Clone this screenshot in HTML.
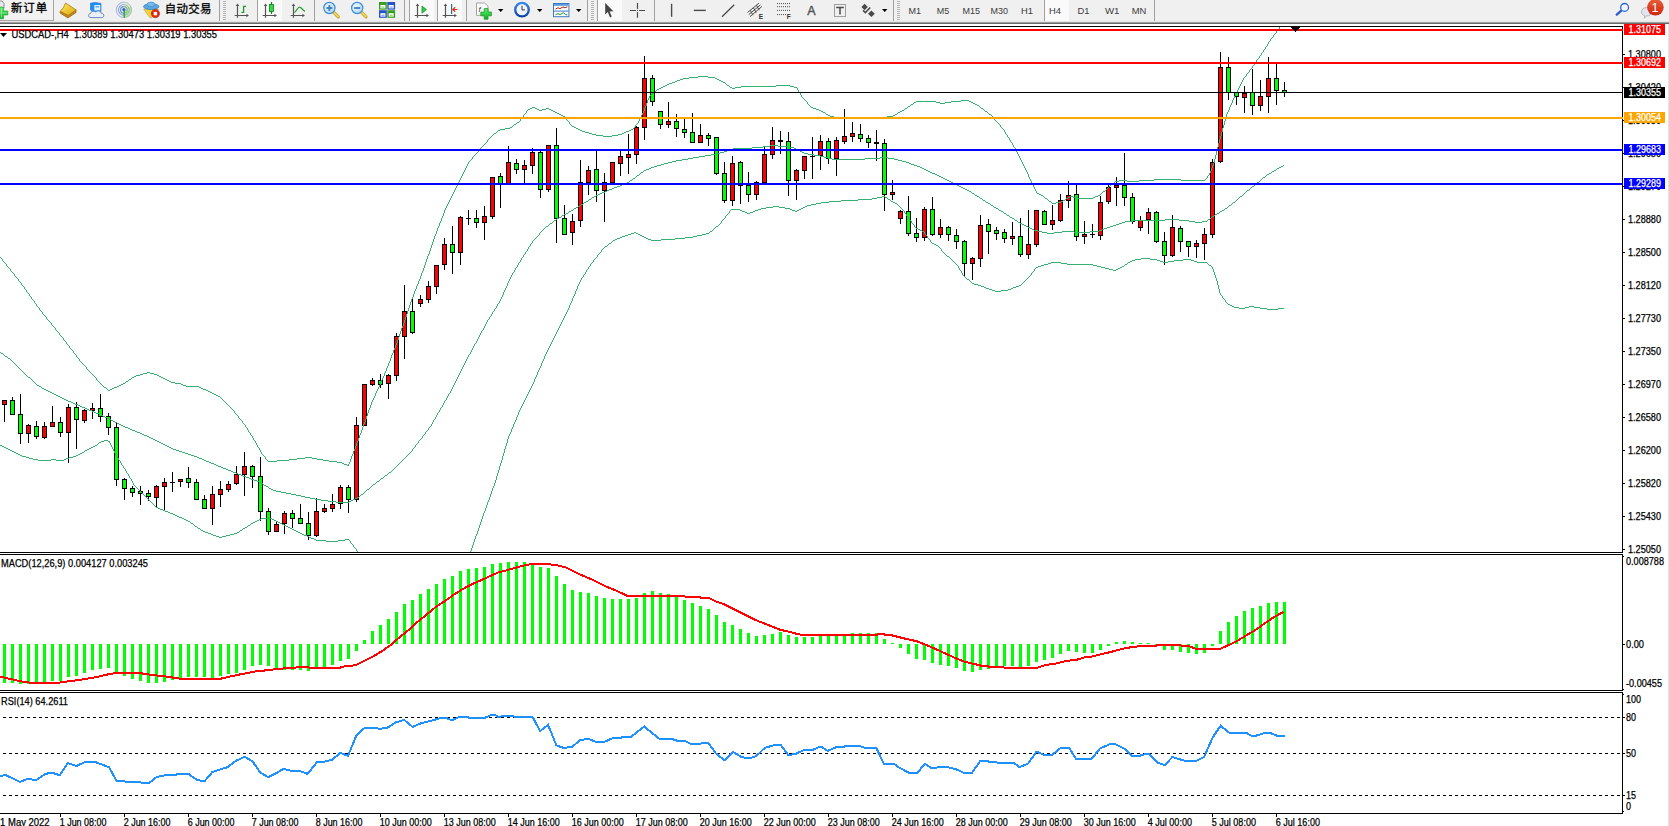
<!DOCTYPE html>
<html><head><meta charset="utf-8"><title>USDCAD-,H4</title>
<style>html,body{margin:0;padding:0;background:#fff;overflow:hidden}body{width:1669px;height:826px}svg{display:block}</style>
</head><body>
<svg width="1669" height="826" viewBox="0 0 1669 826" font-family='"Liberation Sans","Noto Sans CJK SC",sans-serif'>
<rect x="0" y="0" width="1669" height="826" fill="#fff"/>
<g>
<defs><linearGradient id="gGold" x1="0" y1="0" x2="0" y2="1"><stop offset="0" stop-color="#f7dc4a"/><stop offset="1" stop-color="#c8901a"/></linearGradient><linearGradient id="gBadge" x1="0" y1="0" x2="0" y2="1"><stop offset="0" stop-color="#e8603a"/><stop offset="1" stop-color="#d02410"/></linearGradient><linearGradient id="gGreen" x1="0" y1="0" x2="0" y2="1"><stop offset="0" stop-color="#5cf06a"/><stop offset="1" stop-color="#10b020"/></linearGradient><linearGradient id="gClock" x1="0" y1="0" x2="0" y2="1"><stop offset="0" stop-color="#3a8cf0"/><stop offset="1" stop-color="#0a3c9c"/></linearGradient><radialGradient id="gLens" cx="0.4" cy="0.35" r="0.7"><stop offset="0" stop-color="#f4fbff"/><stop offset="1" stop-color="#a8d4f4"/></radialGradient><linearGradient id="gGold2" x1="0" y1="0" x2="1" y2="1"><stop offset="0" stop-color="#fbe870"/><stop offset="0.5" stop-color="#efc830"/><stop offset="1" stop-color="#d8a018"/></linearGradient></defs>
<rect x="0" y="0" width="1669" height="22" fill="#f0f0f0"/>
<rect x="0" y="21" width="1669" height="1" fill="#e4e4e4"/>
<rect x="0" y="22" width="1669" height="1" fill="#a0a0a0"/>
<rect x="0" y="23" width="1669" height="1" fill="#696969"/>
<rect x="-1" y="-1" width="54.5" height="21.5" fill="#f2f2f2" stroke="#a6a6a6" stroke-width="1"/>
<path d="M-2,1 L2,1 L4,3.5 L4,8 L-2,8 Z" fill="#e8e8e8" stroke="#909090" stroke-width="1"/>
<path d="M-1,7.2 H3.6 V11 H7.8 V15 H3.6 V18.8 H-1 Z" fill="url(#gGreen)" stroke="#18a028" stroke-width="0.6"/>
<path d="M1.4,8.6 V17.6 M-1,13 H6.6" stroke="#fff" stroke-opacity="0.4" stroke-width="1.2" fill="none"/>
<text x="10.9" y="12" font-size="11.4" fill="#000" stroke="#000" stroke-width="0.3" textLength="36.2" lengthAdjust="spacing">新订单</text>
<path d="M60.3,11.2 L60,12.9 L67.9,17.9 L76,12.6 L76.1,9.9 L68.2,15.5 Z" fill="#c08a1a" stroke="#9a6a14" stroke-width="0.8" stroke-linejoin="round"/>
<path d="M65.5,3 L76.1,9.9 L68.2,15.5 L60.3,11.2 C62.5,9.6 64.2,6.4 65.5,3 Z" fill="url(#gGold2)" stroke="#a87818" stroke-width="0.8" stroke-linejoin="round"/>
<path d="M90.5,3.2 L95,2.4 L101,3.4 L101,11.5 L93,12 L90.5,10 Z" fill="#1e8ef6" stroke="#1670d0" stroke-width="0.6"/>
<rect x="94.3" y="5" width="6" height="5.5" fill="#dff0ff"/>
<rect x="95.5" y="6.3" width="3.6" height="1" fill="#1e8ef6"/>
<path d="M91,17.6 C88,17.6 87.6,13.8 90.6,13.4 C90.8,11 94.4,10.4 95.6,12.2 C97,10 101,10.8 101,13.2 C104.6,13 104.8,17.6 101.6,17.6 Z" fill="#eaf0fa" stroke="#5c7cbc" stroke-width="0.9"/>
<path d="M123.9,2.3000000000000007 A7.6,7.6 0 0 0 123.9,17.5" fill="none" stroke="#4a78d8" stroke-width="1.1" opacity="0.45"/>
<path d="M123.9,2.3000000000000007 A7.6,7.6 0 0 1 123.9,17.5" fill="none" stroke="#5aa860" stroke-width="1.1" opacity="0.45"/>
<path d="M123.9,4.5 A5.4,5.4 0 0 0 123.9,15.3" fill="none" stroke="#4a78d8" stroke-width="1.1" opacity="0.65"/>
<path d="M123.9,4.5 A5.4,5.4 0 0 1 123.9,15.3" fill="none" stroke="#5aa860" stroke-width="1.1" opacity="0.65"/>
<path d="M123.9,6.6000000000000005 A3.3,3.3 0 0 0 123.9,13.2" fill="none" stroke="#4a78d8" stroke-width="1.1" opacity="0.85"/>
<path d="M123.9,6.6000000000000005 A3.3,3.3 0 0 1 123.9,13.2" fill="none" stroke="#5aa860" stroke-width="1.1" opacity="0.85"/>
<path d="M123.9,9.9 L131,6.5 A7.8,7.8 0 0 1 124.2,17.7 Z" fill="#8cc890" opacity="0.45"/>
<circle cx="123.9" cy="9.7" r="1.6" fill="#2a5cd0"/>
<rect x="123.5" y="10.5" width="1.3" height="7.3" fill="#20a030"/>
<path d="M143.8,9.2 L158.6,9.2 L151.4,17.8 L150,17.8 Z" fill="#f4d23c" stroke="#c89a18" stroke-width="0.6"/>
<ellipse cx="151.2" cy="6.6" rx="7.8" ry="2.9" fill="#5aa8e0" stroke="#2a80c0" stroke-width="0.7"/>
<ellipse cx="151" cy="4.4" rx="3.8" ry="2.3" fill="#78bcec" stroke="#2a80c0" stroke-width="0.6"/>
<circle cx="155.4" cy="13.6" r="4.2" fill="#e02810" stroke="#b01808" stroke-width="0.5"/>
<rect x="153.7" y="11.9" width="3.4" height="3.4" fill="#fff"/>
<text x="164.8" y="12.8" font-size="11.4" fill="#000" stroke="#000" stroke-width="0.3" textLength="46.6" lengthAdjust="spacing">自动交易</text>
<rect x="219" y="0" width="1" height="21" fill="#a0a0a0"/>
<rect x="223" y="1" width="3" height="1" fill="#b4b4b4"/>
<rect x="223" y="3" width="3" height="1" fill="#b4b4b4"/>
<rect x="223" y="5" width="3" height="1" fill="#b4b4b4"/>
<rect x="223" y="7" width="3" height="1" fill="#b4b4b4"/>
<rect x="223" y="9" width="3" height="1" fill="#b4b4b4"/>
<rect x="223" y="11" width="3" height="1" fill="#b4b4b4"/>
<rect x="223" y="13" width="3" height="1" fill="#b4b4b4"/>
<rect x="223" y="15" width="3" height="1" fill="#b4b4b4"/>
<rect x="223" y="17" width="3" height="1" fill="#b4b4b4"/>
<rect x="223" y="19" width="3" height="1" fill="#b4b4b4"/>
<rect x="257" y="0" width="25" height="21" fill="#fafafa"/>
<rect x="257" y="0" width="1" height="21" fill="#a0a0a0"/>
<path d="M237.5,5 V17.8 M234.7,15.5 H247.6" stroke="#555" stroke-width="1.2" fill="none"/>
<path d="M237.5,3.4 L239.3,6 L235.7,6 Z M248.9,15.5 L246.4,13.7 L246.4,17.3 Z" fill="#555"/>
<path d="M243.6,5.8 V13 M243.6,6.4 H246 M241.4,12.4 H243.6" stroke="#18a028" stroke-width="1.3" fill="none"/>
<path d="M265.5,5 V17.8 M262.7,15.5 H275.6" stroke="#555" stroke-width="1.2" fill="none"/>
<path d="M265.5,3.4 L267.3,6 L263.7,6 Z M276.9,15.5 L274.4,13.7 L274.4,17.3 Z" fill="#555"/>
<path d="M271.5,2 V14" stroke="#108018" stroke-width="1.2"/>
<rect x="269.5" y="4.5" width="4" height="7" fill="#30e040" stroke="#108018" stroke-width="0.8"/>
<path d="M293.5,5 V17.8 M290.7,15.5 H303.6" stroke="#555" stroke-width="1.2" fill="none"/>
<path d="M293.5,3.4 L295.3,6 L291.7,6 Z M304.9,15.5 L302.4,13.7 L302.4,17.3 Z" fill="#555"/>
<path d="M294.5,12.6 C297,10 298,7.2 299.6,7.2 C301.4,7.2 302.4,10 305,11.4" stroke="#2aa030" stroke-width="1.2" fill="none"/>
<rect x="314" y="0" width="1" height="21" fill="#a0a0a0"/>
<path d="M333.59999999999997,12.2 L338.2,16.8" stroke="#c8a020" stroke-width="3.2" stroke-linecap="round"/>
<path d="M333.79999999999995,12.4 L338.0,16.6" stroke="#f0d860" stroke-width="1.6" stroke-linecap="round"/>
<circle cx="329.4" cy="8" r="5.6" fill="url(#gLens)" stroke="#3c8cd4" stroke-width="1.2"/>
<path d="M326.4,8 H332.4" stroke="#3a7cb8" stroke-width="1.8"/>
<path d="M329.4,5 V11" stroke="#3a7cb8" stroke-width="1.8"/>
<path d="M361.4,12.2 L366.0,16.8" stroke="#c8a020" stroke-width="3.2" stroke-linecap="round"/>
<path d="M361.59999999999997,12.4 L365.8,16.6" stroke="#f0d860" stroke-width="1.6" stroke-linecap="round"/>
<circle cx="357.2" cy="8" r="5.6" fill="url(#gLens)" stroke="#3c8cd4" stroke-width="1.2"/>
<path d="M354.2,8 H360.2" stroke="#3a7cb8" stroke-width="1.8"/>
<rect x="379" y="2" width="7.8" height="7.6" fill="#3c9c1c"/>
<rect x="380.4" y="5" width="5" height="3.4" fill="#fff"/>
<rect x="381.4" y="6.6" width="3" height="0.9" fill="#3c9c1c" opacity="0.7"/>
<rect x="387.3" y="2" width="7.8" height="7.6" fill="#2454c8"/>
<rect x="388.7" y="5" width="5" height="3.4" fill="#fff"/>
<rect x="389.7" y="6.6" width="3" height="0.9" fill="#2454c8" opacity="0.7"/>
<rect x="379" y="10.2" width="7.8" height="7.6" fill="#2454c8"/>
<rect x="380.4" y="13.2" width="5" height="3.4" fill="#fff"/>
<rect x="381.4" y="14.799999999999999" width="3" height="0.9" fill="#2454c8" opacity="0.7"/>
<rect x="387.3" y="10.2" width="7.8" height="7.6" fill="#3c9c1c"/>
<rect x="388.7" y="13.2" width="5" height="3.4" fill="#fff"/>
<rect x="389.7" y="14.799999999999999" width="3" height="0.9" fill="#3c9c1c" opacity="0.7"/>
<rect x="404" y="0" width="1" height="21" fill="#a0a0a0"/>
<rect x="409" y="0" width="25" height="21" fill="#fafafa"/>
<rect x="409" y="0" width="1" height="21" fill="#a0a0a0"/>
<path d="M417.5,5 V17.8 M414.7,15.5 H427.6" stroke="#555" stroke-width="1.2" fill="none"/>
<path d="M417.5,3.4 L419.3,6 L415.7,6 Z M428.9,15.5 L426.4,13.7 L426.4,17.3 Z" fill="#555"/>
<path d="M422,6 L426.4,9.6 L422,13.2 Z" fill="#30d040" stroke="#189028" stroke-width="0.8"/>
<rect x="437" y="0" width="25" height="21" fill="#fafafa"/>
<rect x="437" y="0" width="1" height="21" fill="#a0a0a0"/>
<path d="M445.5,5 V17.8 M442.7,15.5 H455.6" stroke="#555" stroke-width="1.2" fill="none"/>
<path d="M445.5,3.4 L447.3,6 L443.7,6 Z M456.9,15.5 L454.4,13.7 L454.4,17.3 Z" fill="#555"/>
<rect x="451" y="4" width="1.2" height="10" fill="#2070b0"/>
<path d="M452.6,9.5 H457.4 M455.2,7.2 L452.8,9.5 L455.2,11.8" stroke="#e03010" stroke-width="1.2" fill="none"/>
<rect x="466" y="0" width="1" height="21" fill="#a0a0a0"/>
<path d="M476.5,3 H484.5 L488,6.2 V15.3 H476.5 Z" fill="#fafafa" stroke="#9a9a9a" stroke-width="0.9"/>
<text x="478.6" y="11.5" font-size="8" font-style="italic" fill="#444">f</text>
<path d="M484.2,8.6 H488 V12 H491.4 V15.8 H488 V19.2 H484.2 V15.8 H480.8 V12 H484.2 Z" fill="url(#gGreen)" stroke="#12901e" stroke-width="0.7"/>
<polygon points="498,9 503.4,9 500.7,12" fill="#000"/>
<circle cx="522" cy="9.7" r="7.9" fill="url(#gClock)"/>
<circle cx="522" cy="9.7" r="5.6" fill="#eef4fc"/>
<path d="M522,5.8 V9.9 H525" stroke="#333" stroke-width="1" fill="none"/>
<polygon points="537,9 542.4,9 539.7,12" fill="#000"/>
<rect x="553.5" y="3.5" width="15.4" height="13.2" fill="#fff" stroke="#3c78c8" stroke-width="1"/>
<rect x="554" y="4" width="14.4" height="1.8" fill="#5a98e0"/>
<rect x="554" y="10.6" width="14.4" height="1" fill="#3c78c8"/>
<path d="M555.5,9 L558,7.8 L560,8.6 L563,7 L565,7.8 L567.4,6.8" stroke="#b02818" stroke-width="1" fill="none"/>
<path d="M555.5,14.8 L558,13.6 L560,14.6 L563.4,12.6 L565.4,14.4 L567.4,15" stroke="#189028" stroke-width="1" fill="none"/>
<polygon points="576,9 581.4,9 578.7,12" fill="#000"/>
<rect x="587" y="0" width="1" height="21" fill="#a0a0a0"/>
<rect x="591" y="1" width="3" height="1" fill="#b4b4b4"/>
<rect x="591" y="3" width="3" height="1" fill="#b4b4b4"/>
<rect x="591" y="5" width="3" height="1" fill="#b4b4b4"/>
<rect x="591" y="7" width="3" height="1" fill="#b4b4b4"/>
<rect x="591" y="9" width="3" height="1" fill="#b4b4b4"/>
<rect x="591" y="11" width="3" height="1" fill="#b4b4b4"/>
<rect x="591" y="13" width="3" height="1" fill="#b4b4b4"/>
<rect x="591" y="15" width="3" height="1" fill="#b4b4b4"/>
<rect x="591" y="17" width="3" height="1" fill="#b4b4b4"/>
<rect x="591" y="19" width="3" height="1" fill="#b4b4b4"/>
<rect x="597" y="0" width="25" height="21" fill="#fafafa"/>
<rect x="597" y="0" width="1" height="21" fill="#a0a0a0"/>
<path d="M605.2,2.9 L605.2,14.4 L607.8,12 L610,17.4 L611.8,16.6 L609.6,11.4 L613.4,11.2 Z" fill="#444"/>
<path d="M630,10.5 H636 M639,10.5 H645 M637.5,3 V9 M637.5,12 V17.8" stroke="#4a4a4a" stroke-width="1.2" fill="none"/>
<rect x="637" y="10" width="1" height="1" fill="#4a4a4a"/>
<rect x="654" y="0" width="1" height="21" fill="#a0a0a0"/>
<path d="M671.6,3.8 V16.8" stroke="#4a4a4a" stroke-width="1.4"/>
<path d="M693.8,10.4 H705.8" stroke="#4a4a4a" stroke-width="1.4"/>
<path d="M722,16.8 L734.2,4.8" stroke="#4a4a4a" stroke-width="1.3"/>
<path d="M747.5,12.5 L759,3.2 M748.8,14.6 L760.4,4.9 M750,16.6 L761.8,6.6 M750.2,10.2 L753,15.2 M753.4,7.8 L756.2,12.8 M756.4,5.2 L759.2,10.2" stroke="#4a4a4a" stroke-width="1" fill="none"/>
<text x="758.8" y="18.6" font-size="6.5" font-weight="bold" fill="#333">E</text>
<path d="M777,3.6 H790" stroke="#4a4a4a" stroke-width="1" stroke-dasharray="1,1"/>
<path d="M777,6.7 H790" stroke="#4a4a4a" stroke-width="1" stroke-dasharray="1,1"/>
<path d="M777,10.4 H790" stroke="#4a4a4a" stroke-width="1" stroke-dasharray="1,1"/>
<path d="M777,14.6 H786" stroke="#4a4a4a" stroke-width="1" stroke-dasharray="1,1"/>
<text x="786.8" y="18.6" font-size="6.5" font-weight="bold" fill="#333">F</text>
<text x="807.2" y="15" font-size="12.5" fill="#555" stroke="#555" stroke-width="0.4">A</text>
<rect x="834.5" y="4.5" width="11" height="12" fill="none" stroke="#4a4a4a" stroke-width="1" stroke-dasharray="1,1"/>
<path d="M836.2,7.4 H843.8 M840,7.4 V14.4" stroke="#4a4a4a" stroke-width="1.5" fill="none"/>
<path d="M864.6,3.8 L867.8,7 L864.6,10.2 L861.4,7 Z M871.4,10.6 L874.8,13.8 L871.4,17 L868,13.8 Z" fill="#4a4a4a"/>
<path d="M863,10.4 L865.4,12.6 L870.2,7.4" stroke="#4a4a4a" stroke-width="1.5" fill="none"/>
<polygon points="882,9 887.4,9 884.7,12" fill="#000"/>
<rect x="893" y="0" width="1" height="21" fill="#a0a0a0"/>
<rect x="897" y="1" width="3" height="1" fill="#b4b4b4"/>
<rect x="897" y="3" width="3" height="1" fill="#b4b4b4"/>
<rect x="897" y="5" width="3" height="1" fill="#b4b4b4"/>
<rect x="897" y="7" width="3" height="1" fill="#b4b4b4"/>
<rect x="897" y="9" width="3" height="1" fill="#b4b4b4"/>
<rect x="897" y="11" width="3" height="1" fill="#b4b4b4"/>
<rect x="897" y="13" width="3" height="1" fill="#b4b4b4"/>
<rect x="897" y="15" width="3" height="1" fill="#b4b4b4"/>
<rect x="897" y="17" width="3" height="1" fill="#b4b4b4"/>
<rect x="897" y="19" width="3" height="1" fill="#b4b4b4"/>
<rect x="1044" y="0" width="25" height="21" fill="#fafafa"/>
<rect x="1044" y="0" width="1" height="21" fill="#a0a0a0"/>
<text x="908.5" y="14" font-size="9.6" fill="#3c3c3c" textLength="12.5" lengthAdjust="spacingAndGlyphs">M1</text>
<text x="936.7" y="14" font-size="9.6" fill="#3c3c3c" textLength="12.5" lengthAdjust="spacingAndGlyphs">M5</text>
<text x="962.6" y="14" font-size="9.6" fill="#3c3c3c" textLength="17.5" lengthAdjust="spacingAndGlyphs">M15</text>
<text x="990.6" y="14" font-size="9.6" fill="#3c3c3c" textLength="17.5" lengthAdjust="spacingAndGlyphs">M30</text>
<text x="1021" y="14" font-size="9.6" fill="#3c3c3c" textLength="12" lengthAdjust="spacingAndGlyphs">H1</text>
<text x="1049" y="14" font-size="9.6" fill="#3c3c3c" textLength="12" lengthAdjust="spacingAndGlyphs">H4</text>
<text x="1077.5" y="14" font-size="9.6" fill="#3c3c3c" textLength="12" lengthAdjust="spacingAndGlyphs">D1</text>
<text x="1105" y="14" font-size="9.6" fill="#3c3c3c" textLength="14.5" lengthAdjust="spacingAndGlyphs">W1</text>
<text x="1131.7" y="14" font-size="9.6" fill="#3c3c3c" textLength="14.6" lengthAdjust="spacingAndGlyphs">MN</text>
<rect x="1154" y="0" width="1" height="21" fill="#a0a0a0"/>
<path d="M1621.6,10.4 L1616.8,14.6" stroke="#2c5cd0" stroke-width="2.4" stroke-linecap="round"/>
<circle cx="1624.6" cy="7.4" r="3.9" fill="#f4f6fc" stroke="#2c64d8" stroke-width="1.3"/>
<path d="M1641.6,12 C1641.6,9 1644,7.6 1646.4,7.6 C1650,7.6 1651.6,10 1651.6,12 C1651.6,14.6 1649,16 1646.6,16 L1644.4,18.2 L1644.8,15.8 C1642.6,15.2 1641.6,13.8 1641.6,12 Z" fill="#e2e4ee" stroke="#a8a8a8" stroke-width="0.8"/>
<circle cx="1655.4" cy="7.3" r="8.3" fill="url(#gBadge)"/>
<text x="1651.4" y="11.9" font-size="12.6" fill="#fff">1</text>
</g>
<g shape-rendering="crispEdges">
<rect x="0" y="26" width="1623" height="1" fill="#000"/>
<rect x="1622" y="26" width="1" height="527" fill="#000"/>
<rect x="0" y="552" width="1623" height="1" fill="#000"/>
<rect x="0" y="554" width="1623" height="1" fill="#000"/>
<rect x="1622" y="554" width="1" height="137" fill="#000"/>
<rect x="0" y="690" width="1623" height="1" fill="#000"/>
<rect x="0" y="692" width="1623" height="1" fill="#000"/>
<rect x="1622" y="692" width="1" height="122" fill="#000"/>
<rect x="0" y="813" width="1623" height="1" fill="#000"/>
<rect x="1668" y="24" width="1" height="802" fill="#e3e3e3"/>
</g>
<defs><clipPath id="mainclip"><rect x="0" y="27" width="1623" height="525"/></clipPath></defs>
<g clip-path="url(#mainclip)" shape-rendering="crispEdges">
<rect x="4" y="400" width="1" height="22" fill="#000"/>
<rect x="2" y="400" width="5" height="5" fill="#000"/>
<rect x="3" y="401" width="3" height="3" fill="#f00"/>
<rect x="12" y="397" width="1" height="17" fill="#000"/>
<rect x="10" y="400" width="5" height="15" fill="#000"/>
<rect x="11" y="401" width="3" height="13" fill="#0f0"/>
<rect x="20" y="394" width="1" height="50" fill="#000"/>
<rect x="18" y="414" width="5" height="20" fill="#000"/>
<rect x="19" y="415" width="3" height="18" fill="#0f0"/>
<rect x="28" y="424" width="1" height="19" fill="#000"/>
<rect x="26" y="425" width="5" height="9" fill="#000"/>
<rect x="27" y="426" width="3" height="7" fill="#f00"/>
<rect x="36" y="421" width="1" height="18" fill="#000"/>
<rect x="34" y="426" width="5" height="11" fill="#000"/>
<rect x="35" y="427" width="3" height="9" fill="#0f0"/>
<rect x="44" y="422" width="1" height="17" fill="#000"/>
<rect x="42" y="426" width="5" height="12" fill="#000"/>
<rect x="43" y="427" width="3" height="10" fill="#f00"/>
<rect x="52" y="406" width="1" height="20" fill="#000"/>
<rect x="50" y="422" width="5" height="5" fill="#000"/>
<rect x="51" y="423" width="3" height="3" fill="#f00"/>
<rect x="60" y="417" width="1" height="20" fill="#000"/>
<rect x="58" y="422" width="5" height="11" fill="#000"/>
<rect x="59" y="423" width="3" height="9" fill="#0f0"/>
<rect x="68" y="404" width="1" height="59" fill="#000"/>
<rect x="66" y="407" width="5" height="26" fill="#000"/>
<rect x="67" y="408" width="3" height="24" fill="#f00"/>
<rect x="76" y="402" width="1" height="47" fill="#000"/>
<rect x="74" y="407" width="5" height="13" fill="#000"/>
<rect x="75" y="408" width="3" height="11" fill="#0f0"/>
<rect x="84" y="409" width="1" height="14" fill="#000"/>
<rect x="82" y="410" width="5" height="11" fill="#000"/>
<rect x="83" y="411" width="3" height="9" fill="#f00"/>
<rect x="92" y="403" width="1" height="16" fill="#000"/>
<rect x="90" y="408" width="5" height="3" fill="#000"/>
<rect x="91" y="409" width="3" height="1" fill="#f00"/>
<rect x="100" y="394" width="1" height="28" fill="#000"/>
<rect x="98" y="408" width="5" height="9" fill="#000"/>
<rect x="99" y="409" width="3" height="7" fill="#0f0"/>
<rect x="108" y="413" width="1" height="22" fill="#000"/>
<rect x="106" y="416" width="5" height="12" fill="#000"/>
<rect x="107" y="417" width="3" height="10" fill="#0f0"/>
<rect x="116" y="422" width="1" height="64" fill="#000"/>
<rect x="114" y="427" width="5" height="53" fill="#000"/>
<rect x="115" y="428" width="3" height="51" fill="#0f0"/>
<rect x="124" y="478" width="1" height="22" fill="#000"/>
<rect x="122" y="479" width="5" height="10" fill="#000"/>
<rect x="123" y="480" width="3" height="8" fill="#0f0"/>
<rect x="132" y="486" width="1" height="11" fill="#000"/>
<rect x="130" y="488" width="5" height="5" fill="#000"/>
<rect x="131" y="489" width="3" height="3" fill="#0f0"/>
<rect x="140" y="486" width="1" height="19" fill="#000"/>
<rect x="138" y="491" width="5" height="3" fill="#000"/>
<rect x="139" y="492" width="3" height="1" fill="#0f0"/>
<rect x="148" y="490" width="1" height="11" fill="#000"/>
<rect x="146" y="493" width="5" height="4" fill="#000"/>
<rect x="147" y="494" width="3" height="2" fill="#0f0"/>
<rect x="156" y="485" width="1" height="22" fill="#000"/>
<rect x="154" y="486" width="5" height="12" fill="#000"/>
<rect x="155" y="487" width="3" height="10" fill="#f00"/>
<rect x="164" y="478" width="1" height="32" fill="#000"/>
<rect x="162" y="482" width="5" height="5" fill="#000"/>
<rect x="163" y="483" width="3" height="3" fill="#f00"/>
<rect x="172" y="472" width="1" height="20" fill="#000"/>
<rect x="170" y="482" width="5" height="1" fill="#000"/>
<rect x="180" y="479" width="1" height="8" fill="#000"/>
<rect x="178" y="479" width="5" height="3" fill="#000"/>
<rect x="179" y="480" width="3" height="1" fill="#f00"/>
<rect x="188" y="467" width="1" height="21" fill="#000"/>
<rect x="186" y="478" width="5" height="5" fill="#000"/>
<rect x="187" y="479" width="3" height="3" fill="#0f0"/>
<rect x="196" y="479" width="1" height="21" fill="#000"/>
<rect x="194" y="482" width="5" height="18" fill="#000"/>
<rect x="195" y="483" width="3" height="16" fill="#0f0"/>
<rect x="204" y="495" width="1" height="14" fill="#000"/>
<rect x="202" y="499" width="5" height="10" fill="#000"/>
<rect x="203" y="500" width="3" height="8" fill="#0f0"/>
<rect x="212" y="486" width="1" height="39" fill="#000"/>
<rect x="210" y="494" width="5" height="15" fill="#000"/>
<rect x="211" y="495" width="3" height="13" fill="#f00"/>
<rect x="220" y="481" width="1" height="26" fill="#000"/>
<rect x="218" y="489" width="5" height="6" fill="#000"/>
<rect x="219" y="490" width="3" height="4" fill="#f00"/>
<rect x="228" y="481" width="1" height="11" fill="#000"/>
<rect x="226" y="484" width="5" height="6" fill="#000"/>
<rect x="227" y="485" width="3" height="4" fill="#f00"/>
<rect x="236" y="466" width="1" height="19" fill="#000"/>
<rect x="234" y="474" width="5" height="10" fill="#000"/>
<rect x="235" y="475" width="3" height="8" fill="#f00"/>
<rect x="244" y="452" width="1" height="44" fill="#000"/>
<rect x="242" y="466" width="5" height="9" fill="#000"/>
<rect x="243" y="467" width="3" height="7" fill="#f00"/>
<rect x="252" y="465" width="1" height="23" fill="#000"/>
<rect x="250" y="466" width="5" height="11" fill="#000"/>
<rect x="251" y="467" width="3" height="9" fill="#0f0"/>
<rect x="260" y="457" width="1" height="64" fill="#000"/>
<rect x="258" y="476" width="5" height="36" fill="#000"/>
<rect x="259" y="477" width="3" height="34" fill="#0f0"/>
<rect x="268" y="508" width="1" height="27" fill="#000"/>
<rect x="266" y="511" width="5" height="21" fill="#000"/>
<rect x="267" y="512" width="3" height="19" fill="#0f0"/>
<rect x="276" y="521" width="1" height="11" fill="#000"/>
<rect x="274" y="524" width="5" height="8" fill="#000"/>
<rect x="275" y="525" width="3" height="6" fill="#f00"/>
<rect x="284" y="511" width="1" height="23" fill="#000"/>
<rect x="282" y="513" width="5" height="11" fill="#000"/>
<rect x="283" y="514" width="3" height="9" fill="#f00"/>
<rect x="292" y="510" width="1" height="18" fill="#000"/>
<rect x="290" y="513" width="5" height="6" fill="#000"/>
<rect x="291" y="514" width="3" height="4" fill="#0f0"/>
<rect x="300" y="504" width="1" height="19" fill="#000"/>
<rect x="298" y="518" width="5" height="6" fill="#000"/>
<rect x="299" y="519" width="3" height="4" fill="#0f0"/>
<rect x="308" y="512" width="1" height="28" fill="#000"/>
<rect x="306" y="523" width="5" height="13" fill="#000"/>
<rect x="307" y="524" width="3" height="11" fill="#0f0"/>
<rect x="316" y="498" width="1" height="39" fill="#000"/>
<rect x="314" y="511" width="5" height="25" fill="#000"/>
<rect x="315" y="512" width="3" height="23" fill="#f00"/>
<rect x="324" y="504" width="1" height="9" fill="#000"/>
<rect x="322" y="508" width="5" height="4" fill="#000"/>
<rect x="323" y="509" width="3" height="2" fill="#f00"/>
<rect x="332" y="494" width="1" height="18" fill="#000"/>
<rect x="330" y="504" width="5" height="5" fill="#000"/>
<rect x="331" y="505" width="3" height="3" fill="#f00"/>
<rect x="340" y="485" width="1" height="24" fill="#000"/>
<rect x="338" y="487" width="5" height="17" fill="#000"/>
<rect x="339" y="488" width="3" height="15" fill="#f00"/>
<rect x="348" y="485" width="1" height="28" fill="#000"/>
<rect x="346" y="487" width="5" height="13" fill="#000"/>
<rect x="347" y="488" width="3" height="11" fill="#0f0"/>
<rect x="356" y="417" width="1" height="85" fill="#000"/>
<rect x="354" y="425" width="5" height="75" fill="#000"/>
<rect x="355" y="426" width="3" height="73" fill="#f00"/>
<rect x="364" y="384" width="1" height="42" fill="#000"/>
<rect x="362" y="384" width="5" height="42" fill="#000"/>
<rect x="363" y="385" width="3" height="40" fill="#f00"/>
<rect x="372" y="378" width="1" height="8" fill="#000"/>
<rect x="370" y="380" width="5" height="5" fill="#000"/>
<rect x="371" y="381" width="3" height="3" fill="#f00"/>
<rect x="380" y="374" width="1" height="14" fill="#000"/>
<rect x="378" y="380" width="5" height="5" fill="#000"/>
<rect x="379" y="381" width="3" height="3" fill="#0f0"/>
<rect x="388" y="374" width="1" height="25" fill="#000"/>
<rect x="386" y="375" width="5" height="9" fill="#000"/>
<rect x="387" y="376" width="3" height="7" fill="#f00"/>
<rect x="396" y="333" width="1" height="48" fill="#000"/>
<rect x="394" y="336" width="5" height="40" fill="#000"/>
<rect x="395" y="337" width="3" height="38" fill="#f00"/>
<rect x="404" y="285" width="1" height="74" fill="#000"/>
<rect x="402" y="311" width="5" height="26" fill="#000"/>
<rect x="403" y="312" width="3" height="24" fill="#f00"/>
<rect x="412" y="297" width="1" height="37" fill="#000"/>
<rect x="410" y="311" width="5" height="22" fill="#000"/>
<rect x="411" y="312" width="3" height="20" fill="#0f0"/>
<rect x="420" y="295" width="1" height="12" fill="#000"/>
<rect x="418" y="299" width="5" height="5" fill="#000"/>
<rect x="419" y="300" width="3" height="3" fill="#f00"/>
<rect x="428" y="281" width="1" height="22" fill="#000"/>
<rect x="426" y="286" width="5" height="14" fill="#000"/>
<rect x="427" y="287" width="3" height="12" fill="#f00"/>
<rect x="436" y="265" width="1" height="29" fill="#000"/>
<rect x="434" y="265" width="5" height="22" fill="#000"/>
<rect x="435" y="266" width="3" height="20" fill="#f00"/>
<rect x="444" y="238" width="1" height="32" fill="#000"/>
<rect x="442" y="244" width="5" height="21" fill="#000"/>
<rect x="443" y="245" width="3" height="19" fill="#f00"/>
<rect x="452" y="226" width="1" height="48" fill="#000"/>
<rect x="450" y="244" width="5" height="9" fill="#000"/>
<rect x="451" y="245" width="3" height="7" fill="#0f0"/>
<rect x="460" y="216" width="1" height="49" fill="#000"/>
<rect x="458" y="217" width="5" height="36" fill="#000"/>
<rect x="459" y="218" width="3" height="34" fill="#f00"/>
<rect x="468" y="210" width="1" height="15" fill="#000"/>
<rect x="466" y="218" width="5" height="1" fill="#000"/>
<rect x="476" y="210" width="1" height="18" fill="#000"/>
<rect x="474" y="218" width="5" height="5" fill="#000"/>
<rect x="475" y="219" width="3" height="3" fill="#0f0"/>
<rect x="484" y="206" width="1" height="34" fill="#000"/>
<rect x="482" y="216" width="5" height="7" fill="#000"/>
<rect x="483" y="217" width="3" height="5" fill="#f00"/>
<rect x="492" y="177" width="1" height="42" fill="#000"/>
<rect x="490" y="177" width="5" height="40" fill="#000"/>
<rect x="491" y="178" width="3" height="38" fill="#f00"/>
<rect x="500" y="173" width="1" height="35" fill="#000"/>
<rect x="498" y="176" width="5" height="8" fill="#000"/>
<rect x="499" y="177" width="3" height="6" fill="#0f0"/>
<rect x="508" y="146" width="1" height="38" fill="#000"/>
<rect x="506" y="162" width="5" height="22" fill="#000"/>
<rect x="507" y="163" width="3" height="20" fill="#f00"/>
<rect x="516" y="159" width="1" height="15" fill="#000"/>
<rect x="514" y="163" width="5" height="7" fill="#000"/>
<rect x="515" y="164" width="3" height="5" fill="#0f0"/>
<rect x="524" y="160" width="1" height="23" fill="#000"/>
<rect x="522" y="165" width="5" height="5" fill="#000"/>
<rect x="523" y="166" width="3" height="3" fill="#f00"/>
<rect x="532" y="148" width="1" height="26" fill="#000"/>
<rect x="530" y="152" width="5" height="14" fill="#000"/>
<rect x="531" y="153" width="3" height="12" fill="#f00"/>
<rect x="540" y="151" width="1" height="47" fill="#000"/>
<rect x="538" y="152" width="5" height="38" fill="#000"/>
<rect x="539" y="153" width="3" height="36" fill="#0f0"/>
<rect x="548" y="145" width="1" height="47" fill="#000"/>
<rect x="546" y="145" width="5" height="45" fill="#000"/>
<rect x="547" y="146" width="3" height="43" fill="#f00"/>
<rect x="556" y="128" width="1" height="115" fill="#000"/>
<rect x="554" y="145" width="5" height="74" fill="#000"/>
<rect x="555" y="146" width="3" height="72" fill="#0f0"/>
<rect x="564" y="205" width="1" height="29" fill="#000"/>
<rect x="562" y="218" width="5" height="17" fill="#000"/>
<rect x="563" y="219" width="3" height="15" fill="#0f0"/>
<rect x="572" y="214" width="1" height="31" fill="#000"/>
<rect x="570" y="221" width="5" height="12" fill="#000"/>
<rect x="571" y="222" width="3" height="10" fill="#f00"/>
<rect x="580" y="160" width="1" height="67" fill="#000"/>
<rect x="578" y="182" width="5" height="39" fill="#000"/>
<rect x="579" y="183" width="3" height="37" fill="#f00"/>
<rect x="588" y="166" width="1" height="29" fill="#000"/>
<rect x="586" y="170" width="5" height="13" fill="#000"/>
<rect x="587" y="171" width="3" height="11" fill="#f00"/>
<rect x="596" y="151" width="1" height="51" fill="#000"/>
<rect x="594" y="169" width="5" height="22" fill="#000"/>
<rect x="595" y="170" width="3" height="20" fill="#0f0"/>
<rect x="604" y="173" width="1" height="49" fill="#000"/>
<rect x="602" y="182" width="5" height="9" fill="#000"/>
<rect x="603" y="183" width="3" height="7" fill="#f00"/>
<rect x="612" y="162" width="1" height="20" fill="#000"/>
<rect x="610" y="162" width="5" height="21" fill="#000"/>
<rect x="611" y="163" width="3" height="19" fill="#f00"/>
<rect x="620" y="151" width="1" height="25" fill="#000"/>
<rect x="618" y="156" width="5" height="8" fill="#000"/>
<rect x="619" y="157" width="3" height="6" fill="#f00"/>
<rect x="628" y="134" width="1" height="40" fill="#000"/>
<rect x="626" y="154" width="5" height="4" fill="#000"/>
<rect x="627" y="155" width="3" height="2" fill="#f00"/>
<rect x="636" y="126" width="1" height="38" fill="#000"/>
<rect x="634" y="127" width="5" height="28" fill="#000"/>
<rect x="635" y="128" width="3" height="26" fill="#f00"/>
<rect x="644" y="56" width="1" height="84" fill="#000"/>
<rect x="642" y="78" width="5" height="50" fill="#000"/>
<rect x="643" y="79" width="3" height="48" fill="#f00"/>
<rect x="652" y="75" width="1" height="31" fill="#000"/>
<rect x="650" y="78" width="5" height="24" fill="#000"/>
<rect x="651" y="79" width="3" height="22" fill="#0f0"/>
<rect x="660" y="111" width="1" height="18" fill="#000"/>
<rect x="658" y="111" width="5" height="14" fill="#000"/>
<rect x="659" y="112" width="3" height="12" fill="#0f0"/>
<rect x="668" y="102" width="1" height="26" fill="#000"/>
<rect x="666" y="121" width="5" height="4" fill="#000"/>
<rect x="667" y="122" width="3" height="2" fill="#f00"/>
<rect x="676" y="114" width="1" height="23" fill="#000"/>
<rect x="674" y="121" width="5" height="8" fill="#000"/>
<rect x="675" y="122" width="3" height="6" fill="#0f0"/>
<rect x="684" y="119" width="1" height="19" fill="#000"/>
<rect x="682" y="129" width="5" height="4" fill="#000"/>
<rect x="683" y="130" width="3" height="2" fill="#0f0"/>
<rect x="692" y="113" width="1" height="29" fill="#000"/>
<rect x="690" y="132" width="5" height="11" fill="#000"/>
<rect x="691" y="133" width="3" height="9" fill="#0f0"/>
<rect x="700" y="124" width="1" height="18" fill="#000"/>
<rect x="698" y="135" width="5" height="8" fill="#000"/>
<rect x="699" y="136" width="3" height="6" fill="#f00"/>
<rect x="708" y="133" width="1" height="13" fill="#000"/>
<rect x="706" y="135" width="5" height="4" fill="#000"/>
<rect x="707" y="136" width="3" height="2" fill="#0f0"/>
<rect x="716" y="137" width="1" height="38" fill="#000"/>
<rect x="714" y="137" width="5" height="37" fill="#000"/>
<rect x="715" y="138" width="3" height="35" fill="#0f0"/>
<rect x="724" y="162" width="1" height="41" fill="#000"/>
<rect x="722" y="173" width="5" height="28" fill="#000"/>
<rect x="723" y="174" width="3" height="26" fill="#0f0"/>
<rect x="732" y="156" width="1" height="50" fill="#000"/>
<rect x="730" y="163" width="5" height="38" fill="#000"/>
<rect x="731" y="164" width="3" height="36" fill="#f00"/>
<rect x="740" y="161" width="1" height="43" fill="#000"/>
<rect x="738" y="162" width="5" height="24" fill="#000"/>
<rect x="739" y="163" width="3" height="22" fill="#0f0"/>
<rect x="748" y="172" width="1" height="30" fill="#000"/>
<rect x="746" y="185" width="5" height="10" fill="#000"/>
<rect x="747" y="186" width="3" height="8" fill="#0f0"/>
<rect x="756" y="181" width="1" height="19" fill="#000"/>
<rect x="754" y="182" width="5" height="13" fill="#000"/>
<rect x="755" y="183" width="3" height="11" fill="#f00"/>
<rect x="764" y="146" width="1" height="37" fill="#000"/>
<rect x="762" y="154" width="5" height="29" fill="#000"/>
<rect x="763" y="155" width="3" height="27" fill="#f00"/>
<rect x="772" y="127" width="1" height="32" fill="#000"/>
<rect x="770" y="140" width="5" height="15" fill="#000"/>
<rect x="771" y="141" width="3" height="13" fill="#f00"/>
<rect x="780" y="131" width="1" height="23" fill="#000"/>
<rect x="778" y="140" width="5" height="2" fill="#000"/>
<rect x="788" y="132" width="1" height="64" fill="#000"/>
<rect x="786" y="141" width="5" height="40" fill="#000"/>
<rect x="787" y="142" width="3" height="38" fill="#0f0"/>
<rect x="796" y="169" width="1" height="31" fill="#000"/>
<rect x="794" y="170" width="5" height="11" fill="#000"/>
<rect x="795" y="171" width="3" height="9" fill="#f00"/>
<rect x="804" y="156" width="1" height="23" fill="#000"/>
<rect x="802" y="156" width="5" height="15" fill="#000"/>
<rect x="803" y="157" width="3" height="13" fill="#f00"/>
<rect x="812" y="137" width="1" height="42" fill="#000"/>
<rect x="810" y="156" width="5" height="1" fill="#000"/>
<rect x="820" y="135" width="1" height="35" fill="#000"/>
<rect x="818" y="141" width="5" height="15" fill="#000"/>
<rect x="819" y="142" width="3" height="13" fill="#f00"/>
<rect x="828" y="138" width="1" height="26" fill="#000"/>
<rect x="826" y="141" width="5" height="18" fill="#000"/>
<rect x="827" y="142" width="3" height="16" fill="#0f0"/>
<rect x="836" y="137" width="1" height="39" fill="#000"/>
<rect x="834" y="140" width="5" height="19" fill="#000"/>
<rect x="835" y="141" width="3" height="17" fill="#f00"/>
<rect x="844" y="109" width="1" height="35" fill="#000"/>
<rect x="842" y="136" width="5" height="6" fill="#000"/>
<rect x="843" y="137" width="3" height="4" fill="#f00"/>
<rect x="852" y="122" width="1" height="20" fill="#000"/>
<rect x="850" y="133" width="5" height="4" fill="#000"/>
<rect x="851" y="134" width="3" height="2" fill="#f00"/>
<rect x="860" y="124" width="1" height="18" fill="#000"/>
<rect x="858" y="134" width="5" height="5" fill="#000"/>
<rect x="859" y="135" width="3" height="3" fill="#0f0"/>
<rect x="868" y="135" width="1" height="13" fill="#000"/>
<rect x="866" y="138" width="5" height="5" fill="#000"/>
<rect x="867" y="139" width="3" height="3" fill="#0f0"/>
<rect x="876" y="130" width="1" height="31" fill="#000"/>
<rect x="874" y="142" width="5" height="2" fill="#000"/>
<rect x="884" y="139" width="1" height="72" fill="#000"/>
<rect x="882" y="143" width="5" height="52" fill="#000"/>
<rect x="883" y="144" width="3" height="50" fill="#0f0"/>
<rect x="892" y="180" width="1" height="20" fill="#000"/>
<rect x="890" y="192" width="5" height="3" fill="#000"/>
<rect x="891" y="193" width="3" height="1" fill="#f00"/>
<rect x="900" y="210" width="1" height="14" fill="#000"/>
<rect x="898" y="211" width="5" height="8" fill="#000"/>
<rect x="899" y="212" width="3" height="6" fill="#f00"/>
<rect x="908" y="196" width="1" height="40" fill="#000"/>
<rect x="906" y="211" width="5" height="23" fill="#000"/>
<rect x="907" y="212" width="3" height="21" fill="#0f0"/>
<rect x="916" y="218" width="1" height="24" fill="#000"/>
<rect x="914" y="233" width="5" height="5" fill="#000"/>
<rect x="915" y="234" width="3" height="3" fill="#0f0"/>
<rect x="924" y="207" width="1" height="34" fill="#000"/>
<rect x="922" y="209" width="5" height="29" fill="#000"/>
<rect x="923" y="210" width="3" height="27" fill="#f00"/>
<rect x="932" y="197" width="1" height="39" fill="#000"/>
<rect x="930" y="209" width="5" height="26" fill="#000"/>
<rect x="931" y="210" width="3" height="24" fill="#0f0"/>
<rect x="940" y="219" width="1" height="19" fill="#000"/>
<rect x="938" y="227" width="5" height="8" fill="#000"/>
<rect x="939" y="228" width="3" height="6" fill="#f00"/>
<rect x="948" y="226" width="1" height="15" fill="#000"/>
<rect x="946" y="227" width="5" height="8" fill="#000"/>
<rect x="947" y="228" width="3" height="6" fill="#0f0"/>
<rect x="956" y="229" width="1" height="20" fill="#000"/>
<rect x="954" y="235" width="5" height="7" fill="#000"/>
<rect x="955" y="236" width="3" height="5" fill="#0f0"/>
<rect x="964" y="240" width="1" height="36" fill="#000"/>
<rect x="962" y="241" width="5" height="23" fill="#000"/>
<rect x="963" y="242" width="3" height="21" fill="#0f0"/>
<rect x="972" y="257" width="1" height="23" fill="#000"/>
<rect x="970" y="258" width="5" height="6" fill="#000"/>
<rect x="971" y="259" width="3" height="4" fill="#f00"/>
<rect x="980" y="215" width="1" height="52" fill="#000"/>
<rect x="978" y="225" width="5" height="34" fill="#000"/>
<rect x="979" y="226" width="3" height="32" fill="#f00"/>
<rect x="988" y="219" width="1" height="35" fill="#000"/>
<rect x="986" y="224" width="5" height="8" fill="#000"/>
<rect x="987" y="225" width="3" height="6" fill="#0f0"/>
<rect x="996" y="227" width="1" height="13" fill="#000"/>
<rect x="994" y="230" width="5" height="4" fill="#000"/>
<rect x="995" y="231" width="3" height="2" fill="#0f0"/>
<rect x="1004" y="229" width="1" height="14" fill="#000"/>
<rect x="1002" y="232" width="5" height="7" fill="#000"/>
<rect x="1003" y="233" width="3" height="5" fill="#0f0"/>
<rect x="1012" y="222" width="1" height="23" fill="#000"/>
<rect x="1010" y="236" width="5" height="3" fill="#000"/>
<rect x="1011" y="237" width="3" height="1" fill="#f00"/>
<rect x="1020" y="218" width="1" height="39" fill="#000"/>
<rect x="1018" y="236" width="5" height="19" fill="#000"/>
<rect x="1019" y="237" width="3" height="17" fill="#0f0"/>
<rect x="1028" y="210" width="1" height="49" fill="#000"/>
<rect x="1026" y="244" width="5" height="11" fill="#000"/>
<rect x="1027" y="245" width="3" height="9" fill="#f00"/>
<rect x="1036" y="210" width="1" height="37" fill="#000"/>
<rect x="1034" y="210" width="5" height="35" fill="#000"/>
<rect x="1035" y="211" width="3" height="33" fill="#f00"/>
<rect x="1044" y="210" width="1" height="14" fill="#000"/>
<rect x="1042" y="211" width="5" height="14" fill="#000"/>
<rect x="1043" y="212" width="3" height="12" fill="#0f0"/>
<rect x="1052" y="205" width="1" height="25" fill="#000"/>
<rect x="1050" y="220" width="5" height="5" fill="#000"/>
<rect x="1051" y="221" width="3" height="3" fill="#f00"/>
<rect x="1060" y="194" width="1" height="28" fill="#000"/>
<rect x="1058" y="200" width="5" height="21" fill="#000"/>
<rect x="1059" y="201" width="3" height="19" fill="#f00"/>
<rect x="1068" y="181" width="1" height="27" fill="#000"/>
<rect x="1066" y="195" width="5" height="6" fill="#000"/>
<rect x="1067" y="196" width="3" height="4" fill="#f00"/>
<rect x="1076" y="185" width="1" height="56" fill="#000"/>
<rect x="1074" y="194" width="5" height="43" fill="#000"/>
<rect x="1075" y="195" width="3" height="41" fill="#0f0"/>
<rect x="1084" y="221" width="1" height="23" fill="#000"/>
<rect x="1082" y="234" width="5" height="3" fill="#000"/>
<rect x="1083" y="235" width="3" height="1" fill="#f00"/>
<rect x="1092" y="224" width="1" height="14" fill="#000"/>
<rect x="1090" y="234" width="5" height="1" fill="#000"/>
<rect x="1100" y="196" width="1" height="44" fill="#000"/>
<rect x="1098" y="202" width="5" height="34" fill="#000"/>
<rect x="1099" y="203" width="3" height="32" fill="#f00"/>
<rect x="1108" y="185" width="1" height="19" fill="#000"/>
<rect x="1106" y="187" width="5" height="15" fill="#000"/>
<rect x="1107" y="188" width="3" height="13" fill="#f00"/>
<rect x="1116" y="177" width="1" height="29" fill="#000"/>
<rect x="1114" y="185" width="5" height="3" fill="#000"/>
<rect x="1115" y="186" width="3" height="1" fill="#f00"/>
<rect x="1124" y="153" width="1" height="53" fill="#000"/>
<rect x="1122" y="185" width="5" height="13" fill="#000"/>
<rect x="1123" y="186" width="3" height="11" fill="#0f0"/>
<rect x="1132" y="193" width="1" height="31" fill="#000"/>
<rect x="1130" y="197" width="5" height="25" fill="#000"/>
<rect x="1131" y="198" width="3" height="23" fill="#0f0"/>
<rect x="1140" y="216" width="1" height="15" fill="#000"/>
<rect x="1138" y="220" width="5" height="8" fill="#000"/>
<rect x="1139" y="221" width="3" height="6" fill="#f00"/>
<rect x="1148" y="208" width="1" height="26" fill="#000"/>
<rect x="1146" y="212" width="5" height="8" fill="#000"/>
<rect x="1147" y="213" width="3" height="6" fill="#f00"/>
<rect x="1156" y="211" width="1" height="32" fill="#000"/>
<rect x="1154" y="212" width="5" height="30" fill="#000"/>
<rect x="1155" y="213" width="3" height="28" fill="#0f0"/>
<rect x="1164" y="232" width="1" height="33" fill="#000"/>
<rect x="1162" y="241" width="5" height="15" fill="#000"/>
<rect x="1163" y="242" width="3" height="13" fill="#0f0"/>
<rect x="1172" y="215" width="1" height="42" fill="#000"/>
<rect x="1170" y="227" width="5" height="29" fill="#000"/>
<rect x="1171" y="228" width="3" height="27" fill="#f00"/>
<rect x="1180" y="226" width="1" height="26" fill="#000"/>
<rect x="1178" y="228" width="5" height="14" fill="#000"/>
<rect x="1179" y="229" width="3" height="12" fill="#0f0"/>
<rect x="1188" y="241" width="1" height="16" fill="#000"/>
<rect x="1186" y="241" width="5" height="6" fill="#000"/>
<rect x="1187" y="242" width="3" height="4" fill="#0f0"/>
<rect x="1196" y="240" width="1" height="18" fill="#000"/>
<rect x="1194" y="243" width="5" height="4" fill="#000"/>
<rect x="1195" y="244" width="3" height="2" fill="#f00"/>
<rect x="1204" y="228" width="1" height="32" fill="#000"/>
<rect x="1202" y="234" width="5" height="10" fill="#000"/>
<rect x="1203" y="235" width="3" height="8" fill="#f00"/>
<rect x="1212" y="159" width="1" height="79" fill="#000"/>
<rect x="1210" y="162" width="5" height="73" fill="#000"/>
<rect x="1211" y="163" width="3" height="71" fill="#f00"/>
<rect x="1220" y="52" width="1" height="111" fill="#000"/>
<rect x="1218" y="67" width="5" height="95" fill="#000"/>
<rect x="1219" y="68" width="3" height="93" fill="#f00"/>
<rect x="1228" y="57" width="1" height="43" fill="#000"/>
<rect x="1226" y="67" width="5" height="26" fill="#000"/>
<rect x="1227" y="68" width="3" height="24" fill="#0f0"/>
<rect x="1236" y="92" width="1" height="13" fill="#000"/>
<rect x="1234" y="92" width="5" height="5" fill="#000"/>
<rect x="1235" y="93" width="3" height="3" fill="#0f0"/>
<rect x="1244" y="86" width="1" height="27" fill="#000"/>
<rect x="1242" y="93" width="5" height="5" fill="#000"/>
<rect x="1243" y="94" width="3" height="3" fill="#f00"/>
<rect x="1252" y="69" width="1" height="46" fill="#000"/>
<rect x="1250" y="92" width="5" height="14" fill="#000"/>
<rect x="1251" y="93" width="3" height="12" fill="#0f0"/>
<rect x="1260" y="80" width="1" height="31" fill="#000"/>
<rect x="1258" y="96" width="5" height="10" fill="#000"/>
<rect x="1259" y="97" width="3" height="8" fill="#f00"/>
<rect x="1268" y="57" width="1" height="56" fill="#000"/>
<rect x="1266" y="78" width="5" height="19" fill="#000"/>
<rect x="1267" y="79" width="3" height="17" fill="#f00"/>
<rect x="1276" y="64" width="1" height="41" fill="#000"/>
<rect x="1274" y="78" width="5" height="13" fill="#000"/>
<rect x="1275" y="79" width="3" height="11" fill="#0f0"/>
<rect x="1284" y="82" width="1" height="15" fill="#000"/>
<rect x="1282" y="90" width="5" height="3" fill="#000"/>
<rect x="1283" y="91" width="3" height="1" fill="#0f0"/>
<path d="M1280,26h1v1h-1zM1279,27h1v2h-1zM1278,29h1v1h-1zM1277,30h1v1h-1zM1276,31h1v2h-1zM1275,33h1v1h-1zM1274,34h1v1h-1zM1273,35h1v2h-1zM1272,37h1v1h-1zM1271,38h1v1h-1zM1270,39h1v2h-1zM1269,41h1v1h-1zM1268,42h1v2h-1zM1267,44h1v2h-1zM1266,46h1v1h-1zM1265,47h1v2h-1zM1264,49h1v1h-1zM1263,50h1v2h-1zM1262,52h1v1h-1zM1261,53h1v2h-1zM1260,55h1v1h-1zM1259,56h1v2h-1zM1258,58h1v1h-1zM1257,59h1v1h-1zM1256,60h1v2h-1zM1255,62h1v1h-1zM1254,63h1v2h-1zM1253,65h1v1h-1zM1252,66h1v2h-1zM1251,68h1v1h-1zM1250,69h1v1h-1zM1249,70h1v2h-1zM1248,72h1v1h-1zM1247,73h1v1h-1zM1246,74h1v2h-1zM698,76h10v1h-10zM1245,76h1v1h-1zM689,77h9v1h-9zM708,77h7v1h-7zM1244,77h1v1h-1zM683,78h6v1h-6zM715,78h2v1h-2zM1243,78h1v2h-1zM680,79h3v1h-3zM717,79h2v1h-2zM677,80h3v1h-3zM719,80h2v1h-2zM1242,80h1v2h-1zM675,81h2v1h-2zM721,81h2v1h-2zM672,82h3v1h-3zM723,82h2v1h-2zM1241,82h1v2h-1zM669,83h3v1h-3zM725,83h1v1h-1zM667,84h2v1h-2zM726,84h1v1h-1zM1240,84h1v2h-1zM665,85h2v1h-2zM727,85h2v1h-2zM776,85h14v1h-14zM663,86h2v1h-2zM729,86h1v1h-1zM741,86h35v1h-35zM790,86h4v1h-4zM1239,86h1v2h-1zM661,87h2v1h-2zM730,87h2v1h-2zM735,87h6v1h-6zM794,87h3v1h-3zM659,88h2v1h-2zM732,88h3v1h-3zM797,88h1v2h-1zM1238,88h1v2h-1zM657,89h2v1h-2zM656,90h1v1h-1zM798,90h1v2h-1zM1237,90h1v2h-1zM655,91h1v1h-1zM653,92h2v1h-2zM799,92h1v1h-1zM1236,92h1v2h-1zM652,93h1v1h-1zM800,93h1v2h-1zM651,94h1v1h-1zM1235,94h1v2h-1zM650,95h1v1h-1zM801,95h1v2h-1zM649,96h1v2h-1zM1234,96h1v2h-1zM802,97h1v1h-1zM648,98h1v2h-1zM803,98h1v1h-1zM1233,98h1v2h-1zM804,99h1v1h-1zM647,100h1v3h-1zM805,100h1v1h-1zM961,100h8v1h-8zM1232,100h1v3h-1zM806,101h1v1h-1zM916,101h20v1h-20zM951,101h10v1h-10zM969,101h2v1h-2zM807,102h1v2h-1zM914,102h2v1h-2zM936,102h4v1h-4zM945,102h6v1h-6zM971,102h2v1h-2zM646,103h1v3h-1zM913,103h1v1h-1zM940,103h5v1h-5zM973,103h2v1h-2zM1231,103h1v2h-1zM808,104h1v1h-1zM911,104h2v1h-2zM975,104h2v1h-2zM809,105h1v1h-1zM910,105h1v1h-1zM977,105h2v1h-2zM1230,105h1v2h-1zM645,106h1v2h-1zM810,106h1v1h-1zM908,106h2v1h-2zM979,106h1v1h-1zM532,107h3v1h-3zM811,107h2v1h-2zM907,107h1v1h-1zM980,107h1v1h-1zM1229,107h1v3h-1zM530,108h2v1h-2zM535,108h2v1h-2zM546,108h3v1h-3zM644,108h1v3h-1zM813,108h3v1h-3zM905,108h2v1h-2zM981,108h2v1h-2zM528,109h2v1h-2zM537,109h2v1h-2zM542,109h4v1h-4zM549,109h2v1h-2zM816,109h3v1h-3zM904,109h1v1h-1zM983,109h1v1h-1zM527,110h1v1h-1zM539,110h3v1h-3zM551,110h2v1h-2zM819,110h2v1h-2zM902,110h2v1h-2zM984,110h1v1h-1zM1228,110h1v2h-1zM526,111h1v2h-1zM553,111h2v1h-2zM643,111h1v2h-1zM821,111h2v1h-2zM900,111h2v1h-2zM985,111h2v1h-2zM555,112h2v1h-2zM823,112h2v1h-2zM898,112h2v1h-2zM987,112h1v1h-1zM1227,112h1v2h-1zM525,113h1v1h-1zM557,113h2v1h-2zM642,113h1v2h-1zM825,113h1v1h-1zM897,113h1v1h-1zM988,113h1v1h-1zM524,114h1v1h-1zM559,114h2v1h-2zM826,114h2v1h-2zM895,114h2v1h-2zM989,114h2v1h-2zM1226,114h1v3h-1zM523,115h1v2h-1zM561,115h2v1h-2zM641,115h1v2h-1zM828,115h2v1h-2zM893,115h2v1h-2zM991,115h1v1h-1zM563,116h2v1h-2zM830,116h4v1h-4zM887,116h6v1h-6zM992,116h1v1h-1zM522,117h1v1h-1zM565,117h1v1h-1zM640,117h1v2h-1zM834,117h8v1h-8zM876,117h11v1h-11zM993,117h1v1h-1zM1225,117h1v4h-1zM521,118h1v1h-1zM566,118h1v2h-1zM842,118h34v1h-34zM994,118h1v2h-1zM520,119h1v2h-1zM639,119h1v2h-1zM567,120h1v1h-1zM995,120h1v1h-1zM519,121h1v1h-1zM568,121h1v1h-1zM638,121h1v2h-1zM996,121h1v1h-1zM1224,121h1v4h-1zM517,122h2v1h-2zM569,122h1v2h-1zM997,122h1v1h-1zM516,123h1v1h-1zM637,123h1v1h-1zM998,123h1v1h-1zM514,124h2v1h-2zM570,124h1v1h-1zM636,124h1v1h-1zM999,124h1v1h-1zM513,125h1v1h-1zM571,125h1v1h-1zM635,125h1v2h-1zM1000,125h1v2h-1zM1223,125h1v3h-1zM512,126h1v1h-1zM572,126h2v1h-2zM510,127h2v1h-2zM574,127h2v1h-2zM634,127h1v1h-1zM1001,127h1v1h-1zM505,128h5v1h-5zM576,128h2v1h-2zM633,128h1v1h-1zM1002,128h1v1h-1zM1222,128h1v4h-1zM500,129h5v1h-5zM578,129h2v1h-2zM631,129h2v1h-2zM1003,129h1v1h-1zM498,130h2v1h-2zM580,130h2v1h-2zM629,130h2v1h-2zM1004,130h1v2h-1zM497,131h1v1h-1zM582,131h3v1h-3zM626,131h3v1h-3zM496,132h1v1h-1zM585,132h4v1h-4zM624,132h2v1h-2zM1005,132h1v2h-1zM1221,132h1v4h-1zM494,133h2v1h-2zM589,133h3v1h-3zM622,133h2v1h-2zM493,134h1v1h-1zM592,134h4v1h-4zM618,134h4v1h-4zM1006,134h1v1h-1zM492,135h1v1h-1zM596,135h7v1h-7zM612,135h6v1h-6zM1007,135h1v2h-1zM491,136h1v1h-1zM603,136h9v1h-9zM1220,136h1v3h-1zM490,137h1v1h-1zM1008,137h1v1h-1zM489,138h1v1h-1zM1009,138h1v2h-1zM488,139h1v1h-1zM1219,139h1v4h-1zM487,140h1v2h-1zM1010,140h1v2h-1zM486,142h1v1h-1zM1011,142h1v1h-1zM485,143h1v1h-1zM1012,143h1v2h-1zM1218,143h1v4h-1zM484,144h1v1h-1zM483,145h1v1h-1zM1013,145h1v2h-1zM482,146h1v1h-1zM481,147h1v1h-1zM1014,147h1v1h-1zM1217,147h1v4h-1zM480,148h1v1h-1zM1015,148h1v2h-1zM479,149h1v1h-1zM478,150h1v2h-1zM1016,150h1v2h-1zM1216,151h1v4h-1zM477,152h1v1h-1zM1017,152h1v2h-1zM476,153h1v1h-1zM475,154h1v1h-1zM1018,154h1v2h-1zM474,155h1v1h-1zM1215,155h1v4h-1zM473,156h1v1h-1zM1019,156h1v2h-1zM472,157h1v2h-1zM1020,158h1v2h-1zM471,159h1v1h-1zM1214,159h1v4h-1zM470,160h1v1h-1zM1021,160h1v2h-1zM469,161h1v1h-1zM468,162h1v2h-1zM1022,162h1v2h-1zM1213,163h1v3h-1zM467,164h1v2h-1zM1023,164h1v2h-1zM466,166h1v2h-1zM1024,166h1v2h-1zM1212,166h1v2h-1zM465,168h1v2h-1zM1025,168h1v2h-1zM1211,168h1v3h-1zM464,170h1v2h-1zM1026,170h1v2h-1zM1210,171h1v2h-1zM463,172h1v2h-1zM1027,172h1v2h-1zM1209,173h1v2h-1zM462,174h1v2h-1zM1028,174h1v3h-1zM1208,175h1v1h-1zM461,176h1v2h-1zM1207,176h1v2h-1zM1029,177h1v2h-1zM460,178h1v2h-1zM1206,178h1v1h-1zM1030,179h1v2h-1zM1154,179h27v1h-27zM1205,179h1v1h-1zM459,180h1v2h-1zM1119,180h8v1h-8zM1139,180h15v1h-15zM1181,180h24v1h-24zM1031,181h1v2h-1zM1115,181h4v1h-4zM1127,181h12v1h-12zM458,182h1v2h-1zM1114,182h1v1h-1zM1032,183h1v2h-1zM1113,183h1v1h-1zM457,184h1v2h-1zM1111,184h2v1h-2zM1033,185h1v2h-1zM1110,185h1v1h-1zM456,186h1v2h-1zM1109,186h1v1h-1zM1034,187h1v2h-1zM1108,187h1v1h-1zM455,188h1v2h-1zM1107,188h1v1h-1zM1035,189h1v2h-1zM1106,189h1v1h-1zM454,190h1v2h-1zM1105,190h1v1h-1zM1036,191h1v2h-1zM1103,191h2v1h-2zM453,192h1v2h-1zM1102,192h1v1h-1zM1037,193h2v1h-2zM1101,193h1v1h-1zM452,194h1v2h-1zM1039,194h2v1h-2zM1100,194h1v1h-1zM1041,195h2v1h-2zM1098,195h2v1h-2zM451,196h1v2h-1zM1043,196h1v1h-1zM1070,196h3v1h-3zM1095,196h3v1h-3zM1044,197h1v1h-1zM1068,197h2v1h-2zM1073,197h5v1h-5zM1093,197h2v1h-2zM450,198h1v2h-1zM1045,198h2v1h-2zM1066,198h2v1h-2zM1078,198h15v1h-15zM1047,199h1v1h-1zM1065,199h1v1h-1zM449,200h1v2h-1zM1048,200h1v1h-1zM1063,200h2v1h-2zM1049,201h2v1h-2zM1061,201h2v1h-2zM448,202h1v2h-1zM1051,202h1v1h-1zM1056,202h5v1h-5zM1052,203h4v1h-4zM447,204h1v2h-1zM446,206h1v2h-1zM445,208h1v2h-1zM444,210h1v3h-1zM443,213h1v3h-1zM442,216h1v2h-1zM441,218h1v3h-1zM440,221h1v2h-1zM439,223h1v3h-1zM438,226h1v2h-1zM437,228h1v3h-1zM436,231h1v3h-1zM435,234h1v2h-1zM434,236h1v3h-1zM433,239h1v3h-1zM432,242h1v3h-1zM431,245h1v3h-1zM430,248h1v3h-1zM429,251h1v3h-1zM428,254h1v2h-1zM427,256h1v3h-1zM0,257h1v1h-1zM1,258h1v1h-1zM2,259h1v2h-1zM426,259h1v3h-1zM3,261h1v1h-1zM4,262h1v1h-1zM425,262h1v3h-1zM5,263h1v1h-1zM6,264h1v2h-1zM424,265h1v3h-1zM7,266h1v1h-1zM8,267h1v1h-1zM9,268h1v1h-1zM423,268h1v3h-1zM10,269h1v2h-1zM11,271h1v1h-1zM422,271h1v2h-1zM12,272h1v1h-1zM13,273h1v1h-1zM421,273h1v3h-1zM14,274h1v2h-1zM15,276h1v1h-1zM420,276h1v3h-1zM16,277h1v1h-1zM17,278h1v1h-1zM18,279h1v2h-1zM419,279h1v2h-1zM19,281h1v1h-1zM418,281h1v3h-1zM20,282h1v1h-1zM21,283h1v2h-1zM417,284h1v2h-1zM22,285h1v1h-1zM23,286h1v1h-1zM416,286h1v3h-1zM24,287h1v2h-1zM25,289h1v1h-1zM415,289h1v2h-1zM26,290h1v2h-1zM414,291h1v3h-1zM27,292h1v1h-1zM28,293h1v1h-1zM29,294h1v2h-1zM413,294h1v3h-1zM30,296h1v1h-1zM31,297h1v2h-1zM412,297h1v2h-1zM32,299h1v1h-1zM411,299h1v3h-1zM33,300h1v1h-1zM34,301h1v2h-1zM410,302h1v3h-1zM35,303h1v1h-1zM36,304h1v2h-1zM409,305h1v3h-1zM37,306h1v1h-1zM38,307h1v1h-1zM39,308h1v2h-1zM408,308h1v3h-1zM40,310h1v1h-1zM41,311h1v1h-1zM407,311h1v3h-1zM42,312h1v2h-1zM43,314h1v1h-1zM406,314h1v3h-1zM44,315h1v1h-1zM45,316h1v1h-1zM46,317h1v2h-1zM405,317h1v3h-1zM47,319h1v1h-1zM48,320h1v1h-1zM404,320h1v3h-1zM49,321h1v1h-1zM50,322h1v1h-1zM51,323h1v2h-1zM403,323h1v3h-1zM52,325h1v1h-1zM53,326h1v1h-1zM402,326h1v2h-1zM54,327h1v1h-1zM55,328h1v2h-1zM401,328h1v3h-1zM56,330h1v1h-1zM57,331h1v1h-1zM400,331h1v3h-1zM58,332h1v1h-1zM59,333h1v2h-1zM399,334h1v3h-1zM60,335h1v1h-1zM61,336h1v1h-1zM62,337h1v1h-1zM398,337h1v3h-1zM63,338h1v2h-1zM64,340h1v1h-1zM397,340h1v3h-1zM65,341h1v1h-1zM66,342h1v2h-1zM396,343h1v2h-1zM67,344h1v1h-1zM68,345h1v1h-1zM395,345h1v3h-1zM69,346h1v2h-1zM70,348h1v1h-1zM394,348h1v2h-1zM71,349h1v1h-1zM72,350h1v1h-1zM393,350h1v3h-1zM73,351h1v2h-1zM74,353h1v1h-1zM392,353h1v2h-1zM75,354h1v1h-1zM76,355h1v2h-1zM391,355h1v3h-1zM77,357h1v1h-1zM78,358h1v1h-1zM390,358h1v3h-1zM79,359h1v2h-1zM80,361h1v1h-1zM389,361h1v2h-1zM81,362h1v1h-1zM82,363h1v1h-1zM388,363h1v3h-1zM83,364h1v1h-1zM84,365h1v1h-1zM85,366h1v1h-1zM387,366h1v2h-1zM86,367h1v2h-1zM386,368h1v3h-1zM87,369h1v1h-1zM88,370h1v1h-1zM89,371h1v1h-1zM385,371h1v2h-1zM90,372h1v1h-1zM147,372h3v1h-3zM91,373h1v1h-1zM143,373h4v1h-4zM150,373h4v1h-4zM384,373h1v3h-1zM92,374h1v1h-1zM140,374h3v1h-3zM154,374h3v1h-3zM93,375h1v1h-1zM136,375h4v1h-4zM157,375h2v1h-2zM94,376h1v1h-1zM134,376h2v1h-2zM159,376h2v1h-2zM383,376h1v2h-1zM95,377h1v1h-1zM132,377h2v1h-2zM161,377h2v1h-2zM96,378h1v2h-1zM131,378h1v1h-1zM163,378h2v1h-2zM382,378h1v2h-1zM129,379h2v1h-2zM165,379h2v1h-2zM97,380h1v1h-1zM128,380h1v1h-1zM167,380h2v1h-2zM381,380h1v2h-1zM98,381h1v1h-1zM126,381h2v1h-2zM169,381h2v1h-2zM99,382h1v1h-1zM125,382h1v1h-1zM171,382h4v1h-4zM380,382h1v3h-1zM100,383h1v1h-1zM123,383h2v1h-2zM175,383h6v1h-6zM101,384h1v1h-1zM121,384h2v1h-2zM181,384h2v1h-2zM102,385h1v1h-1zM119,385h2v1h-2zM183,385h3v1h-3zM379,385h1v2h-1zM103,386h1v1h-1zM117,386h2v1h-2zM186,386h13v1h-13zM104,387h2v1h-2zM114,387h3v1h-3zM199,387h2v1h-2zM378,387h1v2h-1zM106,388h1v1h-1zM112,388h2v1h-2zM201,388h2v1h-2zM107,389h1v1h-1zM110,389h2v1h-2zM203,389h3v1h-3zM377,389h1v2h-1zM108,390h2v1h-2zM206,390h2v1h-2zM208,391h2v1h-2zM376,391h1v2h-1zM210,392h2v1h-2zM212,393h2v1h-2zM375,393h1v3h-1zM214,394h2v1h-2zM216,395h2v1h-2zM218,396h2v1h-2zM374,396h1v2h-1zM220,397h1v1h-1zM221,398h1v1h-1zM373,398h1v2h-1zM222,399h1v1h-1zM223,400h1v1h-1zM372,400h1v2h-1zM224,401h1v1h-1zM225,402h1v1h-1zM371,402h1v3h-1zM226,403h1v1h-1zM227,404h1v1h-1zM228,405h1v1h-1zM370,405h1v3h-1zM229,406h1v1h-1zM230,407h1v1h-1zM231,408h1v1h-1zM369,408h1v2h-1zM232,409h1v1h-1zM233,410h1v1h-1zM368,410h1v3h-1zM234,411h1v2h-1zM235,413h1v1h-1zM367,413h1v3h-1zM236,414h1v1h-1zM237,415h1v1h-1zM238,416h1v2h-1zM366,416h1v3h-1zM239,418h1v1h-1zM240,419h1v1h-1zM365,419h1v3h-1zM241,420h1v1h-1zM242,421h1v2h-1zM364,422h1v2h-1zM243,423h1v1h-1zM244,424h1v1h-1zM363,424h1v3h-1zM245,425h1v2h-1zM246,427h1v1h-1zM362,427h1v3h-1zM247,428h1v2h-1zM248,430h1v2h-1zM361,430h1v3h-1zM249,432h1v1h-1zM250,433h1v2h-1zM360,433h1v2h-1zM251,435h1v1h-1zM359,435h1v3h-1zM252,436h1v2h-1zM253,438h1v2h-1zM358,438h1v3h-1zM254,440h1v1h-1zM255,441h1v2h-1zM357,441h1v2h-1zM256,443h1v2h-1zM356,443h1v3h-1zM257,445h1v2h-1zM355,446h1v3h-1zM258,447h1v1h-1zM259,448h1v2h-1zM354,449h1v2h-1zM260,450h1v2h-1zM353,451h1v3h-1zM261,452h1v2h-1zM262,454h1v1h-1zM352,454h1v2h-1zM263,455h1v1h-1zM264,456h1v1h-1zM351,456h1v3h-1zM265,457h1v2h-1zM305,457h7v1h-7zM297,458h8v1h-8zM312,458h5v1h-5zM266,459h1v1h-1zM289,459h8v1h-8zM317,459h6v1h-6zM350,459h1v3h-1zM267,460h1v1h-1zM277,460h12v1h-12zM323,460h6v1h-6zM268,461h9v1h-9zM329,461h8v1h-8zM337,462h5v1h-5zM349,462h1v2h-1zM342,463h2v1h-2zM344,464h3v1h-3zM348,464h1v2h-1zM347,465h1v1h-1zM770,145h8v1h-8zM763,146h7v1h-7zM778,146h10v1h-10zM752,147h11v1h-11zM788,147h6v1h-6zM733,148h19v1h-19zM794,148h2v1h-2zM730,149h3v1h-3zM796,149h2v1h-2zM727,150h3v1h-3zM798,150h2v1h-2zM724,151h3v1h-3zM800,151h2v1h-2zM720,152h4v1h-4zM802,152h2v1h-2zM715,153h5v1h-5zM804,153h4v1h-4zM711,154h4v1h-4zM808,154h6v1h-6zM705,155h6v1h-6zM814,155h6v1h-6zM699,156h6v1h-6zM820,156h4v1h-4zM693,157h6v1h-6zM824,157h4v1h-4zM880,157h8v1h-8zM688,158h5v1h-5zM828,158h4v1h-4zM865,158h15v1h-15zM888,158h6v1h-6zM682,159h6v1h-6zM832,159h33v1h-33zM894,159h4v1h-4zM676,160h6v1h-6zM898,160h4v1h-4zM672,161h4v1h-4zM902,161h4v1h-4zM668,162h4v1h-4zM906,162h3v1h-3zM664,163h4v1h-4zM909,163h2v1h-2zM661,164h3v1h-3zM911,164h3v1h-3zM657,165h4v1h-4zM914,165h3v1h-3zM1283,165h1v1h-1zM654,166h3v1h-3zM917,166h3v1h-3zM1281,166h2v1h-2zM651,167h3v1h-3zM920,167h2v1h-2zM1279,167h2v1h-2zM649,168h2v1h-2zM922,168h2v1h-2zM1277,168h2v1h-2zM646,169h3v1h-3zM924,169h2v1h-2zM1276,169h1v1h-1zM644,170h2v1h-2zM926,170h2v1h-2zM1274,170h2v1h-2zM643,171h1v1h-1zM928,171h2v1h-2zM1272,171h2v1h-2zM641,172h2v1h-2zM930,172h2v1h-2zM1271,172h1v1h-1zM640,173h1v1h-1zM932,173h3v1h-3zM1269,173h2v1h-2zM639,174h1v1h-1zM935,174h2v1h-2zM1267,174h2v1h-2zM637,175h2v1h-2zM937,175h2v1h-2zM1266,175h1v1h-1zM636,176h1v1h-1zM939,176h2v1h-2zM1265,176h1v1h-1zM635,177h1v1h-1zM941,177h2v1h-2zM1263,177h2v1h-2zM633,178h2v1h-2zM943,178h2v1h-2zM1262,178h1v1h-1zM632,179h1v1h-1zM945,179h2v1h-2zM1261,179h1v1h-1zM630,180h2v1h-2zM947,180h2v1h-2zM1260,180h1v1h-1zM629,181h1v1h-1zM949,181h2v1h-2zM1259,181h1v1h-1zM627,182h2v1h-2zM951,182h2v1h-2zM1257,182h2v1h-2zM625,183h2v1h-2zM953,183h2v1h-2zM1256,183h1v1h-1zM622,184h3v1h-3zM955,184h2v1h-2zM1255,184h1v1h-1zM620,185h2v1h-2zM957,185h2v1h-2zM1254,185h1v1h-1zM617,186h3v1h-3zM959,186h2v1h-2zM1252,186h2v1h-2zM614,187h3v1h-3zM961,187h2v1h-2zM1251,187h1v1h-1zM612,188h2v1h-2zM963,188h2v1h-2zM1250,188h1v1h-1zM609,189h3v1h-3zM965,189h2v1h-2zM1249,189h1v1h-1zM607,190h2v1h-2zM967,190h2v1h-2zM1247,190h2v1h-2zM605,191h2v1h-2zM969,191h2v1h-2zM1246,191h1v1h-1zM602,192h3v1h-3zM971,192h1v1h-1zM1245,192h1v1h-1zM600,193h2v1h-2zM972,193h2v1h-2zM1244,193h1v1h-1zM598,194h2v1h-2zM974,194h1v1h-1zM1243,194h1v1h-1zM596,195h2v1h-2zM975,195h2v1h-2zM1242,195h1v1h-1zM594,196h2v1h-2zM977,196h2v1h-2zM1240,196h2v1h-2zM592,197h2v1h-2zM979,197h1v1h-1zM1239,197h1v1h-1zM591,198h1v1h-1zM980,198h2v1h-2zM1238,198h1v1h-1zM589,199h2v1h-2zM982,199h1v1h-1zM1237,199h1v1h-1zM588,200h1v1h-1zM983,200h2v1h-2zM1236,200h1v1h-1zM586,201h2v1h-2zM985,201h1v1h-1zM1235,201h1v1h-1zM584,202h2v1h-2zM986,202h2v1h-2zM1233,202h2v1h-2zM583,203h1v1h-1zM988,203h2v1h-2zM1232,203h1v1h-1zM581,204h2v1h-2zM990,204h1v1h-1zM1231,204h1v1h-1zM580,205h1v1h-1zM991,205h2v1h-2zM1229,205h2v1h-2zM578,206h2v1h-2zM993,206h1v1h-1zM1228,206h1v1h-1zM576,207h2v1h-2zM994,207h2v1h-2zM1227,207h1v1h-1zM574,208h2v1h-2zM996,208h2v1h-2zM1225,208h2v1h-2zM573,209h1v1h-1zM998,209h1v1h-1zM1224,209h1v1h-1zM571,210h2v1h-2zM999,210h2v1h-2zM1222,210h2v1h-2zM569,211h2v1h-2zM1001,211h2v1h-2zM1220,211h2v1h-2zM568,212h1v1h-1zM1003,212h1v1h-1zM1219,212h1v1h-1zM566,213h2v1h-2zM1004,213h2v1h-2zM1217,213h2v1h-2zM564,214h2v1h-2zM1006,214h1v1h-1zM1215,214h2v1h-2zM562,215h2v1h-2zM1007,215h2v1h-2zM1214,215h1v1h-1zM561,216h1v1h-1zM1009,216h1v1h-1zM1212,216h2v1h-2zM559,217h2v1h-2zM1010,217h2v1h-2zM1211,217h1v1h-1zM557,218h2v1h-2zM1012,218h2v1h-2zM1210,218h1v1h-1zM556,219h1v1h-1zM1014,219h1v1h-1zM1165,219h14v1h-14zM1208,219h2v1h-2zM554,220h2v1h-2zM1015,220h2v1h-2zM1133,220h32v1h-32zM1179,220h10v1h-10zM1207,220h1v1h-1zM553,221h1v1h-1zM1017,221h1v1h-1zM1125,221h8v1h-8zM1189,221h6v1h-6zM1202,221h5v1h-5zM552,222h1v1h-1zM1018,222h2v1h-2zM1122,222h3v1h-3zM1195,222h7v1h-7zM550,223h2v1h-2zM1020,223h2v1h-2zM1119,223h3v1h-3zM549,224h1v1h-1zM1022,224h2v1h-2zM1116,224h3v1h-3zM548,225h1v1h-1zM1024,225h2v1h-2zM1113,225h3v1h-3zM546,226h2v1h-2zM1026,226h2v1h-2zM1110,226h3v1h-3zM545,227h1v1h-1zM1028,227h2v1h-2zM1107,227h3v1h-3zM544,228h1v1h-1zM1030,228h2v1h-2zM1104,228h3v1h-3zM543,229h1v1h-1zM1032,229h2v1h-2zM1102,229h2v1h-2zM542,230h1v1h-1zM1034,230h4v1h-4zM1099,230h3v1h-3zM541,231h1v1h-1zM1038,231h4v1h-4zM1062,231h12v1h-12zM1090,231h9v1h-9zM540,232h1v1h-1zM1042,232h5v1h-5zM1054,232h8v1h-8zM1074,232h16v1h-16zM539,233h1v2h-1zM1047,233h7v1h-7zM538,235h1v1h-1zM537,236h1v1h-1zM536,237h1v1h-1zM535,238h1v1h-1zM534,239h1v1h-1zM533,240h1v1h-1zM532,241h1v2h-1zM531,243h1v1h-1zM530,244h1v2h-1zM529,246h1v1h-1zM528,247h1v2h-1zM527,249h1v2h-1zM526,251h1v1h-1zM525,252h1v2h-1zM524,254h1v1h-1zM523,255h1v2h-1zM522,257h1v1h-1zM521,258h1v2h-1zM520,260h1v2h-1zM519,262h1v1h-1zM518,263h1v2h-1zM517,265h1v2h-1zM516,267h1v1h-1zM515,268h1v2h-1zM514,270h1v2h-1zM513,272h1v1h-1zM512,273h1v2h-1zM511,275h1v2h-1zM510,277h1v2h-1zM509,279h1v2h-1zM508,281h1v2h-1zM507,283h1v3h-1zM506,286h1v2h-1zM505,288h1v2h-1zM504,290h1v2h-1zM503,292h1v3h-1zM502,295h1v2h-1zM501,297h1v2h-1zM500,299h1v2h-1zM499,301h1v2h-1zM498,303h1v1h-1zM497,304h1v2h-1zM496,306h1v2h-1zM495,308h1v1h-1zM494,309h1v2h-1zM493,311h1v1h-1zM492,312h1v2h-1zM491,314h1v2h-1zM490,316h1v1h-1zM489,317h1v2h-1zM488,319h1v1h-1zM487,320h1v2h-1zM486,322h1v2h-1zM485,324h1v2h-1zM484,326h1v2h-1zM483,328h1v2h-1zM482,330h1v1h-1zM481,331h1v2h-1zM480,333h1v2h-1zM479,335h1v2h-1zM478,337h1v2h-1zM477,339h1v2h-1zM476,341h1v2h-1zM475,343h1v1h-1zM474,344h1v2h-1zM473,346h1v2h-1zM472,348h1v2h-1zM471,350h1v2h-1zM0,352h1v1h-1zM470,352h1v2h-1zM1,353h2v1h-2zM3,354h1v1h-1zM469,354h1v1h-1zM4,355h1v1h-1zM468,355h1v2h-1zM5,356h2v1h-2zM7,357h1v1h-1zM467,357h1v2h-1zM8,358h2v1h-2zM10,359h1v1h-1zM466,359h1v2h-1zM11,360h1v1h-1zM12,361h1v1h-1zM465,361h1v2h-1zM13,362h1v1h-1zM14,363h1v1h-1zM464,363h1v2h-1zM15,364h1v1h-1zM16,365h1v1h-1zM463,365h1v2h-1zM17,366h1v1h-1zM18,367h1v1h-1zM462,367h1v2h-1zM19,368h1v1h-1zM20,369h1v1h-1zM461,369h1v2h-1zM21,370h1v1h-1zM22,371h1v1h-1zM460,371h1v2h-1zM23,372h1v1h-1zM24,373h1v1h-1zM459,373h1v2h-1zM25,374h1v1h-1zM26,375h1v1h-1zM458,375h1v2h-1zM27,376h1v1h-1zM28,377h2v1h-2zM457,377h1v2h-1zM30,378h1v1h-1zM31,379h1v1h-1zM456,379h1v2h-1zM32,380h1v1h-1zM33,381h1v1h-1zM455,381h1v2h-1zM34,382h1v1h-1zM35,383h1v1h-1zM454,383h1v2h-1zM36,384h1v1h-1zM37,385h2v1h-2zM453,385h1v2h-1zM39,386h2v1h-2zM41,387h1v1h-1zM452,387h1v2h-1zM42,388h2v1h-2zM44,389h2v1h-2zM451,389h1v2h-1zM46,390h2v1h-2zM48,391h2v1h-2zM450,391h1v2h-1zM50,392h2v1h-2zM52,393h2v1h-2zM449,393h1v1h-1zM54,394h2v1h-2zM448,394h1v2h-1zM56,395h2v1h-2zM58,396h2v1h-2zM447,396h1v2h-1zM60,397h2v1h-2zM62,398h2v1h-2zM446,398h1v2h-1zM64,399h2v1h-2zM66,400h2v1h-2zM445,400h1v1h-1zM68,401h3v1h-3zM444,401h1v2h-1zM71,402h2v1h-2zM73,403h2v1h-2zM443,403h1v2h-1zM75,404h3v1h-3zM78,405h2v1h-2zM442,405h1v2h-1zM80,406h2v1h-2zM82,407h3v1h-3zM441,407h1v1h-1zM85,408h2v1h-2zM440,408h1v2h-1zM87,409h2v1h-2zM89,410h3v1h-3zM439,410h1v2h-1zM92,411h2v1h-2zM94,412h2v1h-2zM438,412h1v1h-1zM96,413h3v1h-3zM437,413h1v2h-1zM99,414h2v1h-2zM101,415h2v1h-2zM436,415h1v2h-1zM103,416h2v1h-2zM105,417h2v1h-2zM435,417h1v2h-1zM107,418h2v1h-2zM109,419h2v1h-2zM434,419h1v1h-1zM111,420h2v1h-2zM433,420h1v2h-1zM113,421h2v1h-2zM115,422h2v1h-2zM432,422h1v2h-1zM117,423h2v1h-2zM119,424h2v1h-2zM431,424h1v2h-1zM121,425h2v1h-2zM123,426h2v1h-2zM430,426h1v1h-1zM125,427h3v1h-3zM429,427h1v1h-1zM128,428h2v1h-2zM428,428h1v2h-1zM130,429h2v1h-2zM132,430h3v1h-3zM427,430h1v1h-1zM135,431h2v1h-2zM426,431h1v1h-1zM137,432h3v1h-3zM425,432h1v2h-1zM140,433h2v1h-2zM142,434h2v1h-2zM424,434h1v1h-1zM144,435h3v1h-3zM423,435h1v1h-1zM147,436h2v1h-2zM422,436h1v2h-1zM149,437h2v1h-2zM151,438h2v1h-2zM421,438h1v1h-1zM153,439h2v1h-2zM420,439h1v1h-1zM155,440h2v1h-2zM419,440h1v1h-1zM157,441h2v1h-2zM418,441h1v2h-1zM159,442h2v1h-2zM161,443h2v1h-2zM417,443h1v1h-1zM163,444h2v1h-2zM416,444h1v1h-1zM165,445h2v1h-2zM415,445h1v2h-1zM167,446h2v1h-2zM169,447h2v1h-2zM414,447h1v1h-1zM171,448h2v1h-2zM413,448h1v1h-1zM173,449h3v1h-3zM412,449h1v2h-1zM176,450h3v1h-3zM179,451h3v1h-3zM411,451h1v1h-1zM182,452h3v1h-3zM410,452h1v1h-1zM185,453h3v1h-3zM409,453h1v1h-1zM188,454h3v1h-3zM408,454h1v1h-1zM191,455h3v1h-3zM407,455h1v1h-1zM194,456h3v1h-3zM406,456h1v1h-1zM197,457h2v1h-2zM405,457h1v1h-1zM199,458h3v1h-3zM404,458h1v1h-1zM202,459h2v1h-2zM403,459h1v1h-1zM204,460h2v1h-2zM402,460h1v1h-1zM206,461h3v1h-3zM401,461h1v1h-1zM209,462h2v1h-2zM400,462h1v1h-1zM211,463h3v1h-3zM399,463h1v1h-1zM214,464h2v1h-2zM398,464h1v1h-1zM216,465h2v1h-2zM397,465h1v1h-1zM218,466h3v1h-3zM396,466h1v1h-1zM221,467h2v1h-2zM395,467h1v1h-1zM223,468h3v1h-3zM394,468h1v1h-1zM226,469h2v1h-2zM393,469h1v1h-1zM228,470h3v1h-3zM392,470h1v1h-1zM231,471h2v1h-2zM391,471h1v1h-1zM233,472h3v1h-3zM389,472h2v1h-2zM236,473h2v1h-2zM388,473h1v1h-1zM238,474h3v1h-3zM387,474h1v1h-1zM241,475h2v1h-2zM385,475h2v1h-2zM243,476h3v1h-3zM384,476h1v1h-1zM246,477h3v1h-3zM383,477h1v1h-1zM249,478h2v1h-2zM381,478h2v1h-2zM251,479h3v1h-3zM380,479h1v1h-1zM254,480h3v1h-3zM379,480h1v1h-1zM257,481h2v1h-2zM377,481h2v1h-2zM259,482h2v1h-2zM376,482h1v1h-1zM261,483h2v1h-2zM375,483h1v1h-1zM263,484h1v1h-1zM373,484h2v1h-2zM264,485h2v1h-2zM372,485h1v1h-1zM266,486h2v1h-2zM371,486h1v1h-1zM268,487h1v1h-1zM370,487h1v1h-1zM269,488h2v1h-2zM369,488h1v1h-1zM271,489h2v1h-2zM367,489h2v1h-2zM273,490h3v1h-3zM366,490h1v1h-1zM276,491h5v1h-5zM365,491h1v1h-1zM281,492h5v1h-5zM364,492h1v1h-1zM286,493h5v1h-5zM363,493h1v1h-1zM291,494h5v1h-5zM361,494h2v1h-2zM296,495h5v1h-5zM360,495h1v1h-1zM301,496h4v1h-4zM359,496h1v1h-1zM305,497h5v1h-5zM357,497h2v1h-2zM310,498h5v1h-5zM355,498h2v1h-2zM315,499h6v1h-6zM353,499h2v1h-2zM321,500h7v1h-7zM351,500h2v1h-2zM328,501h8v1h-8zM349,501h2v1h-2zM336,502h13v1h-13zM104,440h4v1h-4zM101,441h3v1h-3zM108,441h2v1h-2zM99,442h2v1h-2zM109,442h1v1h-1zM98,443h1v1h-1zM110,443h1v2h-1zM97,444h1v1h-1zM0,445h2v1h-2zM95,445h2v1h-2zM111,445h1v2h-1zM2,446h2v1h-2zM93,446h2v1h-2zM4,447h2v1h-2zM91,447h2v1h-2zM112,447h1v2h-1zM6,448h2v1h-2zM89,448h2v1h-2zM8,449h2v1h-2zM87,449h2v1h-2zM113,449h1v2h-1zM10,450h2v1h-2zM85,450h2v1h-2zM12,451h2v1h-2zM84,451h1v1h-1zM114,451h1v2h-1zM14,452h2v1h-2zM82,452h2v1h-2zM16,453h2v1h-2zM80,453h2v1h-2zM115,453h1v2h-1zM18,454h2v1h-2zM78,454h2v1h-2zM20,455h2v1h-2zM76,455h2v1h-2zM116,455h1v1h-1zM22,456h4v1h-4zM73,456h3v1h-3zM117,456h1v2h-1zM26,457h3v1h-3zM69,457h4v1h-4zM29,458h4v1h-4zM66,458h3v1h-3zM118,458h1v2h-1zM33,459h5v1h-5zM51,459h5v1h-5zM64,459h2v1h-2zM38,460h13v1h-13zM56,460h8v1h-8zM119,460h1v1h-1zM120,461h1v2h-1zM121,463h1v2h-1zM122,465h1v1h-1zM123,466h1v2h-1zM124,468h1v1h-1zM125,469h1v2h-1zM126,471h1v2h-1zM127,473h1v1h-1zM128,474h1v2h-1zM129,476h1v2h-1zM130,478h1v1h-1zM131,479h1v2h-1zM132,481h1v2h-1zM133,483h1v2h-1zM134,485h1v1h-1zM135,486h1v1h-1zM136,487h1v1h-1zM137,488h1v1h-1zM138,489h1v1h-1zM139,490h1v1h-1zM140,491h1v1h-1zM141,492h1v1h-1zM142,493h1v1h-1zM143,494h1v1h-1zM144,495h1v1h-1zM145,496h1v1h-1zM146,497h1v1h-1zM147,498h1v1h-1zM148,499h1v1h-1zM149,500h1v1h-1zM150,501h1v1h-1zM151,502h1v1h-1zM152,503h1v1h-1zM153,504h1v1h-1zM154,505h1v1h-1zM155,506h1v1h-1zM156,507h2v1h-2zM158,508h2v1h-2zM160,509h3v1h-3zM163,510h2v1h-2zM165,511h3v1h-3zM168,512h2v1h-2zM170,513h3v1h-3zM173,514h2v1h-2zM175,515h2v1h-2zM177,516h2v1h-2zM179,517h3v1h-3zM182,518h2v1h-2zM261,518h11v1h-11zM184,519h2v1h-2zM259,519h2v1h-2zM272,519h2v1h-2zM186,520h2v1h-2zM257,520h2v1h-2zM274,520h2v1h-2zM188,521h2v1h-2zM255,521h2v1h-2zM276,521h2v1h-2zM190,522h1v1h-1zM253,522h2v1h-2zM278,522h2v1h-2zM191,523h2v1h-2zM251,523h2v1h-2zM280,523h2v1h-2zM193,524h1v1h-1zM250,524h1v1h-1zM282,524h2v1h-2zM194,525h1v1h-1zM248,525h2v1h-2zM284,525h2v1h-2zM195,526h2v1h-2zM247,526h1v1h-1zM286,526h2v1h-2zM197,527h1v1h-1zM245,527h2v1h-2zM288,527h2v1h-2zM198,528h2v1h-2zM243,528h2v1h-2zM290,528h2v1h-2zM200,529h1v1h-1zM242,529h1v1h-1zM292,529h2v1h-2zM201,530h2v1h-2zM240,530h2v1h-2zM294,530h2v1h-2zM203,531h2v1h-2zM239,531h1v1h-1zM296,531h2v1h-2zM205,532h3v1h-3zM237,532h2v1h-2zM298,532h2v1h-2zM208,533h3v1h-3zM234,533h3v1h-3zM300,533h2v1h-2zM211,534h2v1h-2zM230,534h4v1h-4zM302,534h2v1h-2zM213,535h3v1h-3zM226,535h4v1h-4zM304,535h3v1h-3zM216,536h3v1h-3zM222,536h4v1h-4zM307,536h2v1h-2zM219,537h3v1h-3zM309,537h2v1h-2zM311,538h3v1h-3zM314,539h2v1h-2zM345,539h4v1h-4zM316,540h10v1h-10zM338,540h7v1h-7zM349,540h1v1h-1zM326,541h12v1h-12zM350,541h1v2h-1zM351,543h1v1h-1zM352,544h1v1h-1zM353,545h1v2h-1zM354,547h1v1h-1zM355,548h1v1h-1zM356,549h1v2h-1zM357,551h1v1h-1zM358,552h1v1h-1zM882,196h3v1h-3zM877,197h5v1h-5zM885,197h2v1h-2zM872,198h5v1h-5zM887,198h1v1h-1zM858,199h14v1h-14zM888,199h2v1h-2zM841,200h17v1h-17zM890,200h1v1h-1zM829,201h12v1h-12zM891,201h2v1h-2zM821,202h8v1h-8zM893,202h2v1h-2zM816,203h5v1h-5zM895,203h2v1h-2zM811,204h5v1h-5zM897,204h1v1h-1zM807,205h4v1h-4zM898,205h1v1h-1zM773,206h6v1h-6zM805,206h2v1h-2zM899,206h1v1h-1zM766,207h7v1h-7zM779,207h6v1h-6zM803,207h2v1h-2zM900,207h1v1h-1zM761,208h5v1h-5zM785,208h5v1h-5zM801,208h2v1h-2zM901,208h1v1h-1zM731,209h9v1h-9zM758,209h3v1h-3zM790,209h2v1h-2zM799,209h2v1h-2zM902,209h1v1h-1zM730,210h1v1h-1zM740,210h2v1h-2zM755,210h3v1h-3zM792,210h3v1h-3zM797,210h2v1h-2zM903,210h1v1h-1zM729,211h1v2h-1zM742,211h3v1h-3zM753,211h2v1h-2zM795,211h2v1h-2zM904,211h1v2h-1zM745,212h2v1h-2zM750,212h3v1h-3zM728,213h1v1h-1zM747,213h3v1h-3zM905,213h1v1h-1zM727,214h1v1h-1zM906,214h1v2h-1zM726,215h1v1h-1zM725,216h1v2h-1zM907,216h1v1h-1zM908,217h1v2h-1zM724,218h1v1h-1zM723,219h1v1h-1zM909,219h1v1h-1zM722,220h1v1h-1zM910,220h1v1h-1zM721,221h1v2h-1zM911,221h1v2h-1zM720,223h1v1h-1zM912,223h1v1h-1zM719,224h1v1h-1zM913,224h1v1h-1zM718,225h1v1h-1zM914,225h1v2h-1zM716,226h2v1h-2zM715,227h1v1h-1zM915,227h1v1h-1zM714,228h1v1h-1zM916,228h2v1h-2zM713,229h1v1h-1zM918,229h2v1h-2zM712,230h1v1h-1zM920,230h2v1h-2zM710,231h2v1h-2zM922,231h2v1h-2zM634,232h2v1h-2zM709,232h1v1h-1zM924,232h1v2h-1zM631,233h3v1h-3zM636,233h2v1h-2zM706,233h3v1h-3zM628,234h3v1h-3zM638,234h2v1h-2zM702,234h4v1h-4zM925,234h1v1h-1zM625,235h3v1h-3zM640,235h2v1h-2zM697,235h5v1h-5zM926,235h1v1h-1zM622,236h3v1h-3zM642,236h2v1h-2zM693,236h4v1h-4zM927,236h1v2h-1zM620,237h2v1h-2zM644,237h2v1h-2zM685,237h8v1h-8zM617,238h3v1h-3zM646,238h2v1h-2zM675,238h10v1h-10zM928,238h1v1h-1zM615,239h2v1h-2zM648,239h3v1h-3zM661,239h14v1h-14zM929,239h1v1h-1zM613,240h2v1h-2zM651,240h10v1h-10zM930,240h1v2h-1zM612,241h1v1h-1zM611,242h1v1h-1zM931,242h1v1h-1zM609,243h2v1h-2zM932,243h2v1h-2zM608,244h1v1h-1zM934,244h2v1h-2zM607,245h1v1h-1zM936,245h2v1h-2zM605,246h2v1h-2zM938,246h1v1h-1zM604,247h1v1h-1zM939,247h1v1h-1zM603,248h1v1h-1zM940,248h1v1h-1zM602,249h1v1h-1zM941,249h1v2h-1zM601,250h1v2h-1zM942,251h1v1h-1zM600,252h1v1h-1zM943,252h1v1h-1zM599,253h1v1h-1zM944,253h1v1h-1zM598,254h1v1h-1zM945,254h1v1h-1zM597,255h1v2h-1zM946,255h1v1h-1zM947,256h2v1h-2zM596,257h1v1h-1zM949,257h1v1h-1zM595,258h1v1h-1zM950,258h1v1h-1zM1141,258h9v1h-9zM594,259h1v1h-1zM951,259h1v1h-1zM1135,259h6v1h-6zM1150,259h7v1h-7zM1183,259h8v1h-8zM593,260h1v2h-1zM952,260h1v1h-1zM1132,260h3v1h-3zM1157,260h3v1h-3zM1174,260h9v1h-9zM1191,260h3v1h-3zM953,261h1v1h-1zM1130,261h2v1h-2zM1160,261h3v1h-3zM1168,261h6v1h-6zM1194,261h3v1h-3zM592,262h1v1h-1zM954,262h1v1h-1zM1051,262h10v1h-10zM1128,262h2v1h-2zM1163,262h5v1h-5zM1197,262h10v1h-10zM591,263h1v1h-1zM955,263h1v1h-1zM1048,263h3v1h-3zM1061,263h6v1h-6zM1127,263h1v1h-1zM1207,263h1v1h-1zM590,264h1v2h-1zM956,264h1v1h-1zM1044,264h4v1h-4zM1067,264h26v1h-26zM1125,264h2v1h-2zM1208,264h1v1h-1zM957,265h1v1h-1zM1041,265h3v1h-3zM1093,265h4v1h-4zM1124,265h1v1h-1zM1209,265h2v1h-2zM589,266h1v1h-1zM958,266h1v2h-1zM1038,266h3v1h-3zM1097,266h4v1h-4zM1122,266h2v1h-2zM1211,266h1v1h-1zM588,267h1v2h-1zM1036,267h2v1h-2zM1101,267h4v1h-4zM1120,267h2v1h-2zM1212,267h1v2h-1zM959,268h1v2h-1zM1035,268h1v1h-1zM1105,268h4v1h-4zM1118,268h2v1h-2zM587,269h1v1h-1zM1034,269h1v2h-1zM1109,269h4v1h-4zM1116,269h2v1h-2zM1213,269h1v3h-1zM586,270h1v2h-1zM960,270h1v1h-1zM1113,270h3v1h-3zM961,271h1v2h-1zM1033,271h1v1h-1zM585,272h1v2h-1zM1032,272h1v1h-1zM1214,272h1v3h-1zM962,273h1v2h-1zM1031,273h1v2h-1zM584,274h1v1h-1zM583,275h1v2h-1zM963,275h1v1h-1zM1030,275h1v1h-1zM1215,275h1v3h-1zM964,276h1v1h-1zM1029,276h1v1h-1zM582,277h1v1h-1zM965,277h1v1h-1zM1028,277h1v1h-1zM581,278h1v2h-1zM966,278h1v1h-1zM1027,278h1v1h-1zM1216,278h1v3h-1zM967,279h2v1h-2zM1026,279h1v1h-1zM580,280h1v2h-1zM969,280h1v1h-1zM1025,280h1v1h-1zM970,281h1v1h-1zM1024,281h1v1h-1zM1217,281h1v4h-1zM579,282h1v2h-1zM971,282h1v1h-1zM1023,282h1v1h-1zM972,283h2v1h-2zM1022,283h1v1h-1zM578,284h1v2h-1zM974,284h4v1h-4zM1021,284h1v1h-1zM978,285h3v1h-3zM1019,285h2v1h-2zM1218,285h1v4h-1zM577,286h1v3h-1zM981,286h3v1h-3zM1016,286h3v1h-3zM984,287h2v1h-2zM1013,287h3v1h-3zM986,288h3v1h-3zM1011,288h2v1h-2zM576,289h1v2h-1zM989,289h3v1h-3zM1008,289h3v1h-3zM1219,289h1v4h-1zM992,290h3v1h-3zM1001,290h7v1h-7zM575,291h1v3h-1zM995,291h6v1h-6zM1220,293h1v2h-1zM574,294h1v2h-1zM1221,295h1v1h-1zM573,296h1v2h-1zM1222,296h1v2h-1zM572,298h1v3h-1zM1223,298h1v1h-1zM1224,299h1v1h-1zM1225,300h1v2h-1zM571,301h1v2h-1zM1226,302h1v1h-1zM570,303h1v2h-1zM1227,303h1v1h-1zM1228,304h2v1h-2zM569,305h1v3h-1zM1230,305h2v1h-2zM1232,306h2v1h-2zM1249,306h5v1h-5zM1234,307h5v1h-5zM1245,307h4v1h-4zM1254,307h6v1h-6zM568,308h1v2h-1zM1239,308h6v1h-6zM1260,308h7v1h-7zM1278,308h6v1h-6zM1267,309h11v1h-11zM567,310h1v2h-1zM566,312h1v2h-1zM565,314h1v2h-1zM564,316h1v2h-1zM563,318h1v2h-1zM562,320h1v2h-1zM561,322h1v2h-1zM560,324h1v2h-1zM559,326h1v2h-1zM558,328h1v2h-1zM557,330h1v2h-1zM556,332h1v2h-1zM555,334h1v2h-1zM554,336h1v2h-1zM553,338h1v2h-1zM552,340h1v2h-1zM551,342h1v2h-1zM550,344h1v2h-1zM549,346h1v2h-1zM548,348h1v2h-1zM547,350h1v2h-1zM546,352h1v2h-1zM545,354h1v2h-1zM544,356h1v3h-1zM543,359h1v2h-1zM542,361h1v2h-1zM541,363h1v3h-1zM540,366h1v2h-1zM539,368h1v2h-1zM538,370h1v2h-1zM537,372h1v3h-1zM536,375h1v2h-1zM535,377h1v2h-1zM534,379h1v3h-1zM533,382h1v2h-1zM532,384h1v2h-1zM531,386h1v2h-1zM530,388h1v2h-1zM529,390h1v2h-1zM528,392h1v2h-1zM527,394h1v2h-1zM526,396h1v2h-1zM525,398h1v2h-1zM524,400h1v2h-1zM523,402h1v2h-1zM522,404h1v2h-1zM521,406h1v2h-1zM520,408h1v2h-1zM519,410h1v2h-1zM518,412h1v3h-1zM517,415h1v2h-1zM516,417h1v3h-1zM515,420h1v2h-1zM514,422h1v2h-1zM513,424h1v3h-1zM512,427h1v2h-1zM511,429h1v3h-1zM510,432h1v2h-1zM509,434h1v2h-1zM508,436h1v3h-1zM507,439h1v4h-1zM506,443h1v3h-1zM505,446h1v3h-1zM504,449h1v4h-1zM503,453h1v3h-1zM502,456h1v4h-1zM501,460h1v3h-1zM500,463h1v3h-1zM499,466h1v4h-1zM498,470h1v3h-1zM497,473h1v3h-1zM496,476h1v4h-1zM495,480h1v3h-1zM494,483h1v3h-1zM493,486h1v2h-1zM492,488h1v3h-1zM491,491h1v3h-1zM490,494h1v3h-1zM489,497h1v3h-1zM488,500h1v2h-1zM487,502h1v3h-1zM486,505h1v3h-1zM485,508h1v3h-1zM484,511h1v2h-1zM483,513h1v3h-1zM482,516h1v3h-1zM481,519h1v3h-1zM480,522h1v3h-1zM479,525h1v3h-1zM478,528h1v3h-1zM477,531h1v3h-1zM476,534h1v2h-1zM475,536h1v3h-1zM474,539h1v3h-1zM473,542h1v3h-1zM472,545h1v3h-1zM471,548h1v3h-1zM470,551h1v2h-1z" fill="#36B06E"/>
<rect x="0" y="29" width="1623" height="2" fill="#f00"/>
<rect x="0" y="62" width="1623" height="2" fill="#f00"/>
<rect x="0" y="92" width="1623" height="1" fill="#000"/>
<rect x="0" y="117" width="1623" height="2" fill="#FFA500"/>
<rect x="0" y="149" width="1623" height="2" fill="#00f"/>
<rect x="0" y="183" width="1623" height="2" fill="#00f"/>
<rect x="1291" y="27" width="9" height="1" fill="#000"/>
<rect x="1292" y="28" width="7" height="1" fill="#000"/>
<rect x="1293" y="29" width="5" height="1" fill="#000"/>
<rect x="1294" y="30" width="3" height="1" fill="#000"/>
<rect x="1295" y="31" width="1" height="1" fill="#000"/>
</g>
<g shape-rendering="crispEdges">
<rect x="3" y="644" width="3" height="39" fill="#0f0"/>
<rect x="11" y="644" width="3" height="39" fill="#0f0"/>
<rect x="19" y="644" width="3" height="40" fill="#0f0"/>
<rect x="27" y="644" width="3" height="40" fill="#0f0"/>
<rect x="35" y="644" width="3" height="39" fill="#0f0"/>
<rect x="43" y="644" width="3" height="38" fill="#0f0"/>
<rect x="51" y="644" width="3" height="37" fill="#0f0"/>
<rect x="59" y="644" width="3" height="37" fill="#0f0"/>
<rect x="67" y="644" width="3" height="33" fill="#0f0"/>
<rect x="75" y="644" width="3" height="32" fill="#0f0"/>
<rect x="83" y="644" width="3" height="29" fill="#0f0"/>
<rect x="91" y="644" width="3" height="26" fill="#0f0"/>
<rect x="99" y="644" width="3" height="25" fill="#0f0"/>
<rect x="107" y="644" width="3" height="24" fill="#0f0"/>
<rect x="115" y="644" width="3" height="28" fill="#0f0"/>
<rect x="123" y="644" width="3" height="32" fill="#0f0"/>
<rect x="131" y="644" width="3" height="35" fill="#0f0"/>
<rect x="139" y="644" width="3" height="37" fill="#0f0"/>
<rect x="147" y="644" width="3" height="39" fill="#0f0"/>
<rect x="155" y="644" width="3" height="39" fill="#0f0"/>
<rect x="163" y="644" width="3" height="38" fill="#0f0"/>
<rect x="171" y="644" width="3" height="36" fill="#0f0"/>
<rect x="179" y="644" width="3" height="34" fill="#0f0"/>
<rect x="187" y="644" width="3" height="33" fill="#0f0"/>
<rect x="195" y="644" width="3" height="33" fill="#0f0"/>
<rect x="203" y="644" width="3" height="33" fill="#0f0"/>
<rect x="211" y="644" width="3" height="34" fill="#0f0"/>
<rect x="219" y="644" width="3" height="32" fill="#0f0"/>
<rect x="227" y="644" width="3" height="30" fill="#0f0"/>
<rect x="235" y="644" width="3" height="29" fill="#0f0"/>
<rect x="243" y="644" width="3" height="26" fill="#0f0"/>
<rect x="251" y="644" width="3" height="22" fill="#0f0"/>
<rect x="259" y="644" width="3" height="21" fill="#0f0"/>
<rect x="267" y="644" width="3" height="22" fill="#0f0"/>
<rect x="275" y="644" width="3" height="25" fill="#0f0"/>
<rect x="283" y="644" width="3" height="26" fill="#0f0"/>
<rect x="291" y="644" width="3" height="26" fill="#0f0"/>
<rect x="299" y="644" width="3" height="26" fill="#0f0"/>
<rect x="307" y="644" width="3" height="27" fill="#0f0"/>
<rect x="315" y="644" width="3" height="23" fill="#0f0"/>
<rect x="323" y="644" width="3" height="23" fill="#0f0"/>
<rect x="331" y="644" width="3" height="21" fill="#0f0"/>
<rect x="339" y="644" width="3" height="17" fill="#0f0"/>
<rect x="347" y="644" width="3" height="15" fill="#0f0"/>
<rect x="355" y="644" width="3" height="7" fill="#0f0"/>
<rect x="363" y="640" width="3" height="4" fill="#0f0"/>
<rect x="371" y="631" width="3" height="13" fill="#0f0"/>
<rect x="379" y="625" width="3" height="19" fill="#0f0"/>
<rect x="387" y="619" width="3" height="25" fill="#0f0"/>
<rect x="395" y="612" width="3" height="32" fill="#0f0"/>
<rect x="403" y="604" width="3" height="40" fill="#0f0"/>
<rect x="411" y="600" width="3" height="44" fill="#0f0"/>
<rect x="419" y="594" width="3" height="50" fill="#0f0"/>
<rect x="427" y="589" width="3" height="55" fill="#0f0"/>
<rect x="435" y="584" width="3" height="60" fill="#0f0"/>
<rect x="443" y="579" width="3" height="65" fill="#0f0"/>
<rect x="451" y="576" width="3" height="68" fill="#0f0"/>
<rect x="459" y="571" width="3" height="73" fill="#0f0"/>
<rect x="467" y="569" width="3" height="75" fill="#0f0"/>
<rect x="475" y="568" width="3" height="76" fill="#0f0"/>
<rect x="483" y="567" width="3" height="77" fill="#0f0"/>
<rect x="491" y="564" width="3" height="80" fill="#0f0"/>
<rect x="499" y="563" width="3" height="81" fill="#0f0"/>
<rect x="507" y="562" width="3" height="82" fill="#0f0"/>
<rect x="515" y="562" width="3" height="82" fill="#0f0"/>
<rect x="523" y="562" width="3" height="82" fill="#0f0"/>
<rect x="531" y="563" width="3" height="81" fill="#0f0"/>
<rect x="539" y="567" width="3" height="77" fill="#0f0"/>
<rect x="547" y="568" width="3" height="76" fill="#0f0"/>
<rect x="555" y="576" width="3" height="68" fill="#0f0"/>
<rect x="563" y="584" width="3" height="60" fill="#0f0"/>
<rect x="571" y="590" width="3" height="54" fill="#0f0"/>
<rect x="579" y="592" width="3" height="52" fill="#0f0"/>
<rect x="587" y="593" width="3" height="51" fill="#0f0"/>
<rect x="595" y="596" width="3" height="48" fill="#0f0"/>
<rect x="603" y="598" width="3" height="46" fill="#0f0"/>
<rect x="611" y="599" width="3" height="45" fill="#0f0"/>
<rect x="619" y="599" width="3" height="45" fill="#0f0"/>
<rect x="627" y="599" width="3" height="45" fill="#0f0"/>
<rect x="635" y="598" width="3" height="46" fill="#0f0"/>
<rect x="643" y="593" width="3" height="51" fill="#0f0"/>
<rect x="651" y="591" width="3" height="53" fill="#0f0"/>
<rect x="659" y="593" width="3" height="51" fill="#0f0"/>
<rect x="667" y="594" width="3" height="50" fill="#0f0"/>
<rect x="675" y="596" width="3" height="48" fill="#0f0"/>
<rect x="683" y="600" width="3" height="44" fill="#0f0"/>
<rect x="691" y="603" width="3" height="41" fill="#0f0"/>
<rect x="699" y="606" width="3" height="38" fill="#0f0"/>
<rect x="707" y="609" width="3" height="35" fill="#0f0"/>
<rect x="715" y="615" width="3" height="29" fill="#0f0"/>
<rect x="723" y="622" width="3" height="22" fill="#0f0"/>
<rect x="731" y="625" width="3" height="19" fill="#0f0"/>
<rect x="739" y="629" width="3" height="15" fill="#0f0"/>
<rect x="747" y="633" width="3" height="11" fill="#0f0"/>
<rect x="755" y="636" width="3" height="8" fill="#0f0"/>
<rect x="763" y="635" width="3" height="9" fill="#0f0"/>
<rect x="771" y="634" width="3" height="10" fill="#0f0"/>
<rect x="779" y="632" width="3" height="12" fill="#0f0"/>
<rect x="787" y="635" width="3" height="9" fill="#0f0"/>
<rect x="795" y="637" width="3" height="7" fill="#0f0"/>
<rect x="803" y="637" width="3" height="7" fill="#0f0"/>
<rect x="811" y="637" width="3" height="7" fill="#0f0"/>
<rect x="819" y="636" width="3" height="8" fill="#0f0"/>
<rect x="827" y="636" width="3" height="8" fill="#0f0"/>
<rect x="835" y="636" width="3" height="8" fill="#0f0"/>
<rect x="843" y="636" width="3" height="8" fill="#0f0"/>
<rect x="851" y="633" width="3" height="11" fill="#0f0"/>
<rect x="859" y="633" width="3" height="11" fill="#0f0"/>
<rect x="867" y="633" width="3" height="11" fill="#0f0"/>
<rect x="875" y="633" width="3" height="11" fill="#0f0"/>
<rect x="883" y="639" width="3" height="5" fill="#0f0"/>
<rect x="891" y="643" width="3" height="1" fill="#0f0"/>
<rect x="899" y="644" width="3" height="4" fill="#0f0"/>
<rect x="907" y="644" width="3" height="10" fill="#0f0"/>
<rect x="915" y="644" width="3" height="15" fill="#0f0"/>
<rect x="923" y="644" width="3" height="16" fill="#0f0"/>
<rect x="931" y="644" width="3" height="19" fill="#0f0"/>
<rect x="939" y="644" width="3" height="21" fill="#0f0"/>
<rect x="947" y="644" width="3" height="22" fill="#0f0"/>
<rect x="955" y="644" width="3" height="24" fill="#0f0"/>
<rect x="963" y="644" width="3" height="27" fill="#0f0"/>
<rect x="971" y="644" width="3" height="28" fill="#0f0"/>
<rect x="979" y="644" width="3" height="26" fill="#0f0"/>
<rect x="987" y="644" width="3" height="25" fill="#0f0"/>
<rect x="995" y="644" width="3" height="22" fill="#0f0"/>
<rect x="1003" y="644" width="3" height="22" fill="#0f0"/>
<rect x="1011" y="644" width="3" height="22" fill="#0f0"/>
<rect x="1019" y="644" width="3" height="23" fill="#0f0"/>
<rect x="1027" y="644" width="3" height="22" fill="#0f0"/>
<rect x="1035" y="644" width="3" height="18" fill="#0f0"/>
<rect x="1043" y="644" width="3" height="16" fill="#0f0"/>
<rect x="1051" y="644" width="3" height="14" fill="#0f0"/>
<rect x="1059" y="644" width="3" height="10" fill="#0f0"/>
<rect x="1067" y="644" width="3" height="7" fill="#0f0"/>
<rect x="1075" y="644" width="3" height="8" fill="#0f0"/>
<rect x="1083" y="644" width="3" height="9" fill="#0f0"/>
<rect x="1091" y="644" width="3" height="9" fill="#0f0"/>
<rect x="1099" y="644" width="3" height="6" fill="#0f0"/>
<rect x="1107" y="644" width="3" height="2" fill="#0f0"/>
<rect x="1115" y="642" width="3" height="2" fill="#0f0"/>
<rect x="1123" y="641" width="3" height="3" fill="#0f0"/>
<rect x="1131" y="642" width="3" height="2" fill="#0f0"/>
<rect x="1139" y="643" width="3" height="1" fill="#0f0"/>
<rect x="1147" y="643" width="3" height="1" fill="#0f0"/>
<rect x="1155" y="644" width="3" height="2" fill="#0f0"/>
<rect x="1163" y="644" width="3" height="6" fill="#0f0"/>
<rect x="1171" y="644" width="3" height="6" fill="#0f0"/>
<rect x="1179" y="644" width="3" height="8" fill="#0f0"/>
<rect x="1187" y="644" width="3" height="9" fill="#0f0"/>
<rect x="1195" y="644" width="3" height="10" fill="#0f0"/>
<rect x="1203" y="644" width="3" height="9" fill="#0f0"/>
<rect x="1211" y="644" width="3" height="2" fill="#0f0"/>
<rect x="1219" y="631" width="3" height="13" fill="#0f0"/>
<rect x="1227" y="622" width="3" height="22" fill="#0f0"/>
<rect x="1235" y="616" width="3" height="28" fill="#0f0"/>
<rect x="1243" y="611" width="3" height="33" fill="#0f0"/>
<rect x="1251" y="608" width="3" height="36" fill="#0f0"/>
<rect x="1259" y="606" width="3" height="38" fill="#0f0"/>
<rect x="1267" y="603" width="3" height="41" fill="#0f0"/>
<rect x="1275" y="602" width="3" height="42" fill="#0f0"/>
<rect x="1283" y="602" width="3" height="42" fill="#0f0"/>
<polyline points="0.0,676.7 12.3,679.4 21.0,681.3 29.0,682.5 59.7,682.5 77.2,680.2 93.0,677.8 110.6,673.8 119.4,672.9 138.7,672.9 149.2,674.6 165.0,676.4 182.5,679.0 219.4,679.0 237.0,675.0 254.5,671.6 270.0,669.9 277.0,669.0 301.6,667.1 308.6,667.1 309.5,668.0 340.2,668.0 341.1,666.7 349.0,666.2 356.0,665.0 364.8,660.6 373.6,656.2 382.3,650.9 391.1,644.8 399.9,636.9 408.7,629.9 417.4,622.0 426.2,614.9 435.0,607.6 443.8,601.8 452.5,595.6 461.3,590.0 470.1,585.1 478.9,581.2 487.7,577.2 498.2,572.5 508.7,569.7 519.2,566.7 526.3,564.9 533.3,564.0 547.9,564.0 557.6,565.4 566.3,567.6 580.4,574.6 592.7,579.8 604.9,586.0 615.5,590.4 627.8,596.0 683.9,596.0 685.7,597.0 699.7,597.0 701.5,597.9 708.5,597.9 715.5,601.3 724.3,604.4 734.8,609.7 745.4,614.9 755.9,620.2 768.2,624.9 780.5,629.9 791.0,632.1 798.0,634.3 805.0,635.1 876.7,635.1 878.5,633.9 883.7,633.9 885.5,635.1 892.5,635.5 904.8,638.6 917.1,641.3 929.4,646.2 941.6,651.8 953.9,657.4 964.5,661.8 975.0,664.1 982.0,665.9 987.3,665.9 989.0,666.7 1003.1,666.7 1004.8,668.0 1036.4,668.0 1045.2,665.0 1055.7,663.6 1066.3,660.9 1076.8,659.7 1085.6,657.1 1092.3,656.5 1102.8,653.9 1113.4,651.3 1125.6,648.0 1132.7,647.1 1141.4,646.0 1155.5,646.0 1157.2,644.8 1180.1,644.8 1181.8,646.0 1188.8,646.0 1195.9,648.8 1220.4,648.8 1229.2,644.8 1238.0,640.4 1246.8,635.1 1255.5,629.9 1264.3,623.7 1273.1,617.6 1283.6,611.8" fill="none" stroke="#f00" stroke-width="2" />
<line x1="3" y1="717.5" x2="1622" y2="717.5" stroke="#000" stroke-width="1" stroke-dasharray="3,3"/>
<line x1="3" y1="753.5" x2="1622" y2="753.5" stroke="#000" stroke-width="1" stroke-dasharray="3,3"/>
<line x1="3" y1="795.5" x2="1622" y2="795.5" stroke="#000" stroke-width="1" stroke-dasharray="3,3"/>
<polyline points="0.0,775.9 5.9,775.2 20.1,781.9 27.7,778.9 36.1,780.1 45.3,773.9 52.0,772.7 59.6,775.2 67.9,763.0 76.3,766.0 85.6,761.8 94.8,761.8 109.0,767.2 116.6,780.9 124.1,780.9 125.8,781.9 139.2,781.9 141.8,782.8 149.3,782.8 156.9,776.9 166.1,775.1 176.1,774.7 179.5,773.5 187.9,773.5 197.1,780.1 204.7,781.1 212.2,772.2 227.3,767.2 236.5,760.5 244.9,756.8 252.5,761.3 260.0,772.2 267.9,777.2 276.7,773.0 283.4,768.8 291.8,770.9 299.4,771.0 307.7,773.9 317.0,762.1 323.7,761.8 332.1,759.6 340.5,752.9 348.0,755.9 356.4,735.3 364.8,727.7 375.7,727.7 379.0,728.9 387.4,727.7 395.8,722.4 404.2,719.9 412.6,726.9 421.0,723.2 431.0,720.7 441.1,718.0 446.1,718.0 452.0,720.2 459.6,716.8 467.1,716.8 469.6,718.0 484.7,718.0 491.4,714.8 494.8,714.8 498.1,716.8 504.9,716.0 511.6,716.0 514.9,716.8 532.5,716.8 540.1,731.1 548.1,724.9 556.4,745.4 563.5,747.9 571.9,747.0 580.3,740.0 588.6,739.0 596.2,742.0 604.6,741.7 613.0,738.1 620.5,738.1 622.2,737.0 630.6,737.0 644.3,726.6 659.1,738.6 671.7,739.0 677.6,740.8 684.3,740.8 691.0,744.0 700.2,744.0 701.9,743.2 708.6,743.2 716.1,753.7 724.5,760.1 732.9,751.7 741.3,757.1 749.7,758.3 756.4,755.9 764.8,747.9 774.9,744.9 780.7,744.9 788.3,755.1 795.0,754.1 803.4,750.4 813.4,749.6 819.2,747.0 821.7,747.0 827.6,750.9 836.8,747.0 843.6,747.0 845.2,745.9 859.5,745.9 865.4,747.9 876.3,747.9 883.8,763.8 893.9,763.8 899.8,768.0 909.0,772.7 917.4,772.7 924.9,763.8 931.6,768.0 935.8,768.0 938.3,767.2 947.6,767.2 956.0,769.2 963.5,772.7 971.9,772.7 980.3,761.0 987.8,761.0 989.5,762.1 996.2,762.1 997.9,763.0 1013.8,763.0 1019.7,767.2 1028.1,763.5 1036.5,751.7 1044.0,754.9 1052.4,754.6 1060.8,747.9 1069.2,747.9 1075.9,758.8 1091.7,758.8 1100.1,748.4 1110.2,744.0 1115.2,744.0 1124.5,748.7 1132.0,755.8 1139.6,755.8 1142.9,754.6 1148.8,754.1 1157.2,762.5 1164.7,765.2 1172.3,757.1 1180.7,759.6 1185.7,761.0 1195.8,761.0 1204.1,757.1 1212.5,737.8 1220.6,725.7 1229.3,732.8 1246.1,732.8 1251.1,735.6 1256.1,735.6 1264.5,733.1 1270.4,733.1 1277.1,735.8 1284.7,735.8" fill="none" stroke="#1E90FF" stroke-width="2" />
<rect x="60" y="814" width="1" height="3" fill="#000"/>
<rect x="124" y="814" width="1" height="3" fill="#000"/>
<rect x="188" y="814" width="1" height="3" fill="#000"/>
<rect x="252" y="814" width="1" height="3" fill="#000"/>
<rect x="316" y="814" width="1" height="3" fill="#000"/>
<rect x="380" y="814" width="1" height="3" fill="#000"/>
<rect x="444" y="814" width="1" height="3" fill="#000"/>
<rect x="508" y="814" width="1" height="3" fill="#000"/>
<rect x="572" y="814" width="1" height="3" fill="#000"/>
<rect x="636" y="814" width="1" height="3" fill="#000"/>
<rect x="700" y="814" width="1" height="3" fill="#000"/>
<rect x="764" y="814" width="1" height="3" fill="#000"/>
<rect x="828" y="814" width="1" height="3" fill="#000"/>
<rect x="892" y="814" width="1" height="3" fill="#000"/>
<rect x="956" y="814" width="1" height="3" fill="#000"/>
<rect x="1020" y="814" width="1" height="3" fill="#000"/>
<rect x="1084" y="814" width="1" height="3" fill="#000"/>
<rect x="1148" y="814" width="1" height="3" fill="#000"/>
<rect x="1212" y="814" width="1" height="3" fill="#000"/>
<rect x="1276" y="814" width="1" height="3" fill="#000"/>
<rect x="1623" y="54" width="2" height="1" fill="#000"/>
<rect x="1623" y="87" width="2" height="1" fill="#000"/>
<rect x="1623" y="120" width="2" height="1" fill="#000"/>
<rect x="1623" y="153" width="2" height="1" fill="#000"/>
<rect x="1623" y="186" width="2" height="1" fill="#000"/>
<rect x="1623" y="219" width="2" height="1" fill="#000"/>
<rect x="1623" y="252" width="2" height="1" fill="#000"/>
<rect x="1623" y="285" width="2" height="1" fill="#000"/>
<rect x="1623" y="318" width="2" height="1" fill="#000"/>
<rect x="1623" y="351" width="2" height="1" fill="#000"/>
<rect x="1623" y="384" width="2" height="1" fill="#000"/>
<rect x="1623" y="417" width="2" height="1" fill="#000"/>
<rect x="1623" y="450" width="2" height="1" fill="#000"/>
<rect x="1623" y="483" width="2" height="1" fill="#000"/>
<rect x="1623" y="516" width="2" height="1" fill="#000"/>
<rect x="1623" y="549" width="2" height="1" fill="#000"/>
<rect x="1623" y="556" width="1" height="1" fill="#000"/>
<rect x="1623" y="644" width="2" height="1" fill="#000"/>
<rect x="1623" y="689" width="1" height="1" fill="#000"/>
<rect x="1623" y="694" width="1" height="1" fill="#000"/>
<rect x="1623" y="717" width="2" height="1" fill="#000"/>
<rect x="1623" y="753" width="2" height="1" fill="#000"/>
<rect x="1623" y="795" width="2" height="1" fill="#000"/>
<rect x="1623" y="811" width="1" height="1" fill="#000"/>
</g>
<text x="1628" y="58" font-size="10" fill="#000" stroke="#000" stroke-width="0.25" textLength="33" lengthAdjust="spacingAndGlyphs">1.30800</text>
<text x="1628" y="91" font-size="10" fill="#000" stroke="#000" stroke-width="0.25" textLength="33" lengthAdjust="spacingAndGlyphs">1.30420</text>
<text x="1628" y="124" font-size="10" fill="#000" stroke="#000" stroke-width="0.25" textLength="33" lengthAdjust="spacingAndGlyphs">1.30030</text>
<text x="1628" y="157" font-size="10" fill="#000" stroke="#000" stroke-width="0.25" textLength="33" lengthAdjust="spacingAndGlyphs">1.29650</text>
<text x="1628" y="190" font-size="10" fill="#000" stroke="#000" stroke-width="0.25" textLength="33" lengthAdjust="spacingAndGlyphs">1.29270</text>
<text x="1628" y="223" font-size="10" fill="#000" stroke="#000" stroke-width="0.25" textLength="33" lengthAdjust="spacingAndGlyphs">1.28880</text>
<text x="1628" y="256" font-size="10" fill="#000" stroke="#000" stroke-width="0.25" textLength="33" lengthAdjust="spacingAndGlyphs">1.28500</text>
<text x="1628" y="289" font-size="10" fill="#000" stroke="#000" stroke-width="0.25" textLength="33" lengthAdjust="spacingAndGlyphs">1.28120</text>
<text x="1628" y="322" font-size="10" fill="#000" stroke="#000" stroke-width="0.25" textLength="33" lengthAdjust="spacingAndGlyphs">1.27730</text>
<text x="1628" y="355" font-size="10" fill="#000" stroke="#000" stroke-width="0.25" textLength="33" lengthAdjust="spacingAndGlyphs">1.27350</text>
<text x="1628" y="388" font-size="10" fill="#000" stroke="#000" stroke-width="0.25" textLength="33" lengthAdjust="spacingAndGlyphs">1.26970</text>
<text x="1628" y="421" font-size="10" fill="#000" stroke="#000" stroke-width="0.25" textLength="33" lengthAdjust="spacingAndGlyphs">1.26580</text>
<text x="1628" y="454" font-size="10" fill="#000" stroke="#000" stroke-width="0.25" textLength="33" lengthAdjust="spacingAndGlyphs">1.26200</text>
<text x="1628" y="487" font-size="10" fill="#000" stroke="#000" stroke-width="0.25" textLength="33" lengthAdjust="spacingAndGlyphs">1.25820</text>
<text x="1628" y="520" font-size="10" fill="#000" stroke="#000" stroke-width="0.25" textLength="33" lengthAdjust="spacingAndGlyphs">1.25430</text>
<text x="1628" y="553" font-size="10" fill="#000" stroke="#000" stroke-width="0.25" textLength="33" lengthAdjust="spacingAndGlyphs">1.25050</text>
<rect x="1624" y="24" width="41" height="11" fill="#f00" shape-rendering="crispEdges"/>
<text x="1628.5" y="33" font-size="10" fill="#fff" stroke="#fff" stroke-width="0.25" textLength="32.5" lengthAdjust="spacingAndGlyphs">1.31075</text>
<rect x="1624" y="57" width="41" height="11" fill="#f00" shape-rendering="crispEdges"/>
<text x="1628.5" y="66" font-size="10" fill="#fff" stroke="#fff" stroke-width="0.25" textLength="32.5" lengthAdjust="spacingAndGlyphs">1.30692</text>
<rect x="1624" y="87" width="41" height="11" fill="#000" shape-rendering="crispEdges"/>
<text x="1628.5" y="96" font-size="10" fill="#fff" stroke="#fff" stroke-width="0.25" textLength="32.5" lengthAdjust="spacingAndGlyphs">1.30355</text>
<rect x="1624" y="112" width="41" height="11" fill="#FFA500" shape-rendering="crispEdges"/>
<text x="1628.5" y="121" font-size="10" fill="#fff" stroke="#fff" stroke-width="0.25" textLength="32.5" lengthAdjust="spacingAndGlyphs">1.30054</text>
<rect x="1624" y="144" width="41" height="11" fill="#00f" shape-rendering="crispEdges"/>
<text x="1628.5" y="153" font-size="10" fill="#fff" stroke="#fff" stroke-width="0.25" textLength="32.5" lengthAdjust="spacingAndGlyphs">1.29683</text>
<rect x="1624" y="178" width="41" height="11" fill="#00f" shape-rendering="crispEdges"/>
<text x="1628.5" y="187" font-size="10" fill="#fff" stroke="#fff" stroke-width="0.25" textLength="32.5" lengthAdjust="spacingAndGlyphs">1.29289</text>
<text x="1626" y="565" font-size="10" fill="#000" stroke="#000" stroke-width="0.25" textLength="38" lengthAdjust="spacingAndGlyphs">0.008788</text>
<text x="1626" y="648" font-size="10" fill="#000" stroke="#000" stroke-width="0.25" textLength="18" lengthAdjust="spacingAndGlyphs">0.00</text>
<text x="1626" y="687" font-size="10" fill="#000" stroke="#000" stroke-width="0.25" textLength="36" lengthAdjust="spacingAndGlyphs">-0.00455</text>
<text x="1626" y="703" font-size="10" fill="#000" stroke="#000" stroke-width="0.25" textLength="15" lengthAdjust="spacingAndGlyphs">100</text>
<text x="1626" y="721" font-size="10" fill="#000" stroke="#000" stroke-width="0.25" textLength="10" lengthAdjust="spacingAndGlyphs">80</text>
<text x="1626" y="757" font-size="10" fill="#000" stroke="#000" stroke-width="0.25" textLength="10" lengthAdjust="spacingAndGlyphs">50</text>
<text x="1626" y="799" font-size="10" fill="#000" stroke="#000" stroke-width="0.25" textLength="10" lengthAdjust="spacingAndGlyphs">15</text>
<text x="1626" y="810" font-size="10" fill="#000" stroke="#000" stroke-width="0.25" textLength="5" lengthAdjust="spacingAndGlyphs">0</text>
<polygon points="0,33 7,33 3.5,37" fill="#000"/>
<text x="11.5" y="38" font-size="10" fill="#000" stroke="#000" stroke-width="0.25" textLength="205.5" lengthAdjust="spacingAndGlyphs">USDCAD-,H4&#160;&#160;1.30389 1.30473 1.30319 1.30355</text>
<text x="1" y="567" font-size="10" fill="#000" stroke="#000" stroke-width="0.25" textLength="147" lengthAdjust="spacingAndGlyphs">MACD(12,26,9) 0.004127 0.003245</text>
<text x="1" y="705" font-size="10" fill="#000" stroke="#000" stroke-width="0.25" textLength="67" lengthAdjust="spacingAndGlyphs">RSI(14) 64.2611</text>
<text x="-5.2" y="826" font-size="10" fill="#000" stroke="#000" stroke-width="0.25" textLength="54.8" lengthAdjust="spacingAndGlyphs">31 May 2022</text>
<text x="59.7" y="826" font-size="10" fill="#000" stroke="#000" stroke-width="0.25" textLength="46.8" lengthAdjust="spacingAndGlyphs">1 Jun 08:00</text>
<text x="123.7" y="826" font-size="10" fill="#000" stroke="#000" stroke-width="0.25" textLength="46.8" lengthAdjust="spacingAndGlyphs">2 Jun 16:00</text>
<text x="187.7" y="826" font-size="10" fill="#000" stroke="#000" stroke-width="0.25" textLength="46.8" lengthAdjust="spacingAndGlyphs">6 Jun 00:00</text>
<text x="251.7" y="826" font-size="10" fill="#000" stroke="#000" stroke-width="0.25" textLength="46.8" lengthAdjust="spacingAndGlyphs">7 Jun 08:00</text>
<text x="315.7" y="826" font-size="10" fill="#000" stroke="#000" stroke-width="0.25" textLength="46.8" lengthAdjust="spacingAndGlyphs">8 Jun 16:00</text>
<text x="379.7" y="826" font-size="10" fill="#000" stroke="#000" stroke-width="0.25" textLength="52" lengthAdjust="spacingAndGlyphs">10 Jun 00:00</text>
<text x="443.7" y="826" font-size="10" fill="#000" stroke="#000" stroke-width="0.25" textLength="52" lengthAdjust="spacingAndGlyphs">13 Jun 08:00</text>
<text x="507.7" y="826" font-size="10" fill="#000" stroke="#000" stroke-width="0.25" textLength="52" lengthAdjust="spacingAndGlyphs">14 Jun 16:00</text>
<text x="571.7" y="826" font-size="10" fill="#000" stroke="#000" stroke-width="0.25" textLength="52" lengthAdjust="spacingAndGlyphs">16 Jun 00:00</text>
<text x="635.7" y="826" font-size="10" fill="#000" stroke="#000" stroke-width="0.25" textLength="52" lengthAdjust="spacingAndGlyphs">17 Jun 08:00</text>
<text x="699.7" y="826" font-size="10" fill="#000" stroke="#000" stroke-width="0.25" textLength="52" lengthAdjust="spacingAndGlyphs">20 Jun 16:00</text>
<text x="763.7" y="826" font-size="10" fill="#000" stroke="#000" stroke-width="0.25" textLength="52" lengthAdjust="spacingAndGlyphs">22 Jun 00:00</text>
<text x="827.7" y="826" font-size="10" fill="#000" stroke="#000" stroke-width="0.25" textLength="52" lengthAdjust="spacingAndGlyphs">23 Jun 08:00</text>
<text x="891.7" y="826" font-size="10" fill="#000" stroke="#000" stroke-width="0.25" textLength="52" lengthAdjust="spacingAndGlyphs">24 Jun 16:00</text>
<text x="955.7" y="826" font-size="10" fill="#000" stroke="#000" stroke-width="0.25" textLength="52" lengthAdjust="spacingAndGlyphs">28 Jun 00:00</text>
<text x="1019.7" y="826" font-size="10" fill="#000" stroke="#000" stroke-width="0.25" textLength="52" lengthAdjust="spacingAndGlyphs">29 Jun 08:00</text>
<text x="1083.7" y="826" font-size="10" fill="#000" stroke="#000" stroke-width="0.25" textLength="52" lengthAdjust="spacingAndGlyphs">30 Jun 16:00</text>
<text x="1147.7" y="826" font-size="10" fill="#000" stroke="#000" stroke-width="0.25" textLength="44.3" lengthAdjust="spacingAndGlyphs">4 Jul 00:00</text>
<text x="1211.7" y="826" font-size="10" fill="#000" stroke="#000" stroke-width="0.25" textLength="44.3" lengthAdjust="spacingAndGlyphs">5 Jul 08:00</text>
<text x="1275.7" y="826" font-size="10" fill="#000" stroke="#000" stroke-width="0.25" textLength="44.3" lengthAdjust="spacingAndGlyphs">6 Jul 16:00</text>
</svg>
</body></html>
